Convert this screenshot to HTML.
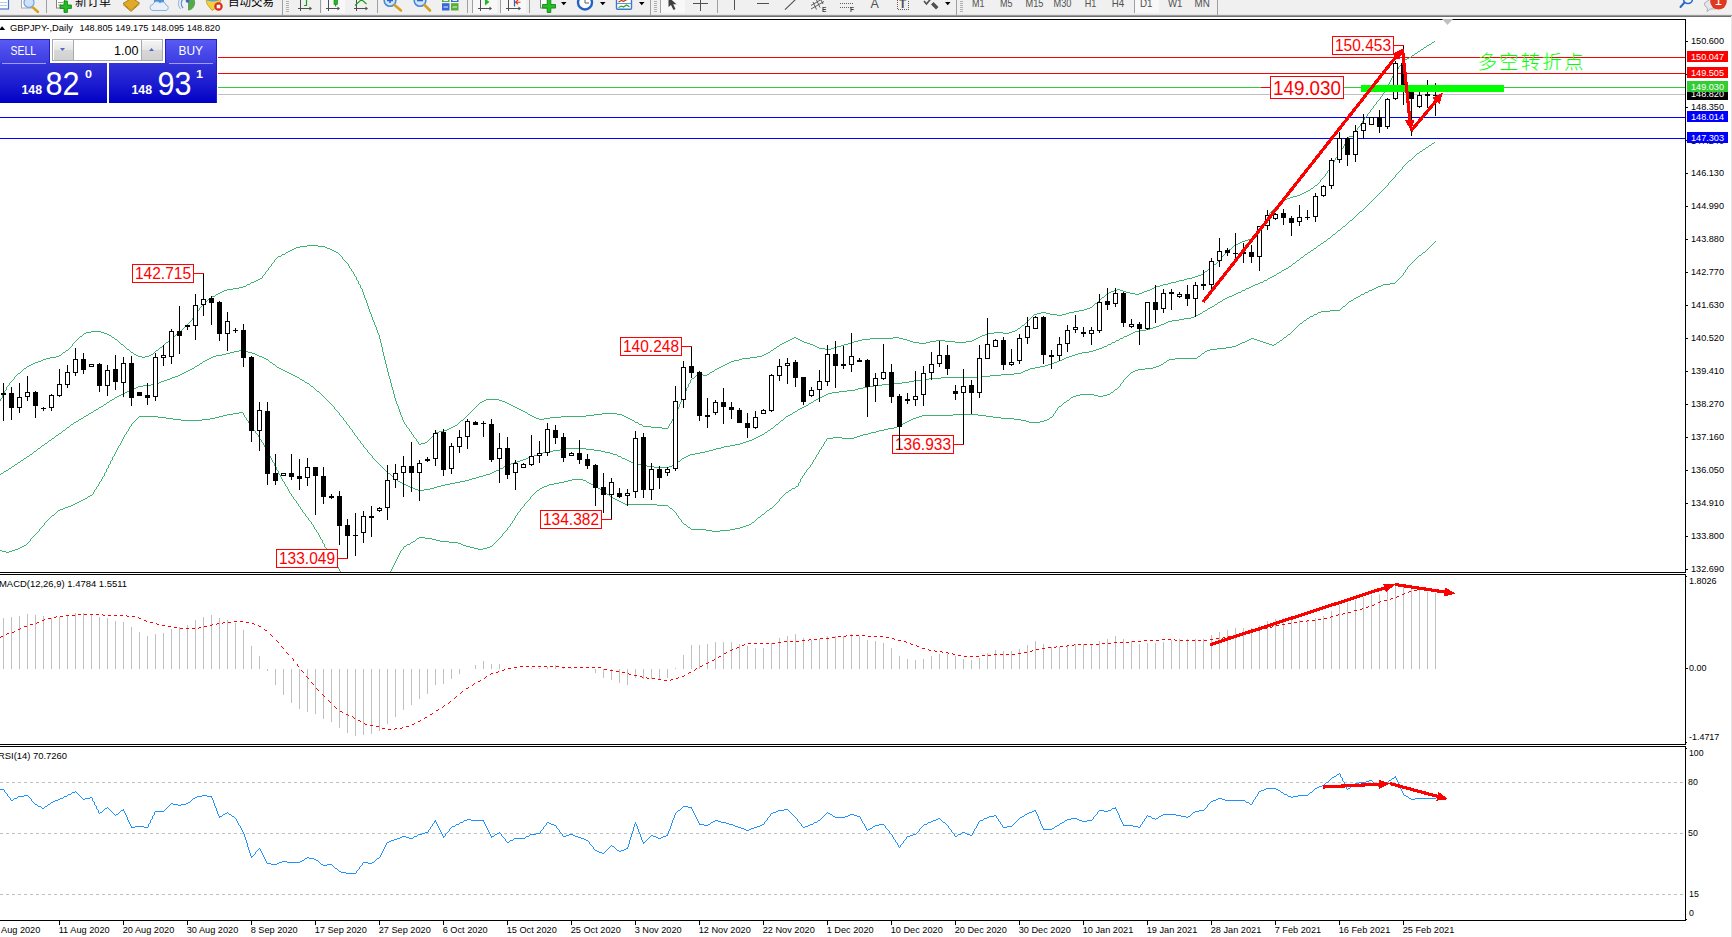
<!DOCTYPE html>
<html><head><meta charset="utf-8"><title>GBPJPY Daily</title>
<style>
html,body{margin:0;padding:0;background:#fff;overflow:hidden}
svg{display:block;position:absolute;left:0;top:0}
text{font-family:"Liberation Sans","Noto Sans CJK SC",sans-serif;}
.s{font-size:9.5px;fill:#000}
</style></head><body>
<svg width="1732" height="937" viewBox="0 0 1732 937">
<defs>
<linearGradient id="gsell" x1="0" y1="0" x2="0" y2="1"><stop offset="0" stop-color="#5b5bf5"/><stop offset="1" stop-color="#3a3ae0"/></linearGradient>
<linearGradient id="gbig" x1="0" y1="0" x2="0" y2="1"><stop offset="0" stop-color="#3434d8"/><stop offset="0.55" stop-color="#1a1ad0"/><stop offset="1" stop-color="#0000c4"/></linearGradient>
<linearGradient id="gbtn" x1="0" y1="0" x2="0" y2="1"><stop offset="0" stop-color="#f4f4f4"/><stop offset="0.45" stop-color="#e6e6e6"/><stop offset="0.5" stop-color="#d8d8d8"/><stop offset="1" stop-color="#d0d0d0"/></linearGradient>
<linearGradient id="gtb" x1="0" y1="0" x2="0" y2="1"><stop offset="0" stop-color="#f0f0f0"/><stop offset="0.3" stop-color="#a0a0a0"/><stop offset="0.6" stop-color="#707070"/><stop offset="1" stop-color="#d8d8d8"/></linearGradient>
</defs>
<rect x="0" y="0" width="1732" height="937" fill="#fff"/>

<g shape-rendering="crispEdges">
<rect x="218" y="57" width="1467" height="1" fill="#ff0000"/>
<rect x="218" y="73" width="1467" height="1" fill="#ff0000"/>
<rect x="218" y="87" width="1467" height="1" fill="#32cd32"/>
<rect x="218" y="94" width="1467" height="1" fill="#c0c0c0"/>
<rect x="0" y="117" width="1685" height="1" fill="#0000ff"/>
<rect x="0" y="138" width="1685" height="1" fill="#0000ff"/>
<clipPath id="cm"><rect x="0" y="20" width="1685" height="552"/></clipPath>
<g clip-path="url(#cm)">
<path d="M0.5 399v2M2.5 395v3M4.5 391v3M6.5 387v3M9.5 383v2M14.5 377v2M72.5 344v2M192.5 318v2M194.5 315v2M197.5 311v2M199.5 308v2M262.5 276v2M265.5 272v2M268.5 268v2M271.5 264v2M274.5 260v2M342.5 257v2M348.5 264v2M349.5 266v2M351.5 269v2M353.5 272v2M354.5 274v2M356.5 277v3M358.5 281v3M360.5 285v3M362.5 289v3M363.5 292v3M364.5 295v3M365.5 298v2M366.5 300v3M367.5 303v3M368.5 306v3M369.5 309v3M370.5 312v2M371.5 314v3M372.5 317v3M373.5 320v2M374.5 322v3M375.5 325v2M376.5 327v3M377.5 330v3M378.5 333v2M379.5 335v4M380.5 339v4M381.5 343v4M382.5 347v5M383.5 352v4M384.5 356v4M385.5 360v4M386.5 364v4M387.5 368v4M388.5 372v4M389.5 376v3M390.5 379v4M391.5 383v4M392.5 387v3M393.5 390v4M394.5 394v4M395.5 398v3M396.5 401v3M397.5 404v2M398.5 406v3M399.5 409v3M400.5 412v3M401.5 415v2M402.5 417v3M403.5 420v2M404.5 422v2M406.5 425v2M409.5 429v2M411.5 432v2M413.5 435v2M416.5 439v2M418.5 442v2M668.5 426v2M669.5 424v2M671.5 421v2M672.5 419v2M673.5 417v2M674.5 415v2M675.5 413v2M676.5 411v2M677.5 409v2M678.5 407v2M679.5 404v3M680.5 402v2M681.5 400v2M682.5 397v3M683.5 395v2M684.5 393v2M685.5 391v2M686.5 388v3M688.5 384v3M690.5 380v3M1221.5 257v2M1262.5 227v2M1263.5 225v2M1264.5 223v2M1265.5 221v2M1266.5 219v2M1267.5 217v2M1268.5 215v2M1269.5 213v2M1281.5 201v2M1320.5 180v2M1325.5 174v2M1327.5 171v2M1329.5 168v2M1331.5 165v2M1332.5 163v2M1334.5 160v2M1335.5 158v2M1337.5 155v2M1339.5 152v2M1341.5 149v2M1343.5 146v2M1344.5 144v2M1346.5 141v2M1347.5 139v2M1348.5 137v2M1353.5 134v2M1355.5 131v2M1357.5 128v2M1360.5 124v2M1362.5 121v2M1364.5 118v2M1367.5 114v2M1370.5 110v2M1373.5 106v2M1376.5 102v2M1380.5 97v2M1382.5 94v2M1385.5 90v2M1386.5 88v2M1387.5 86v2M1388.5 84v2M1389.5 82v2M1390.5 80v2M1391.5 78v2M1392.5 76v2M1393.5 74v2M1395.5 71v2M1398.5 67v2M1402.5 62v2M1434 41.5h1M1432 42.5h2M1431 43.5h1M1429 44.5h2M1427 45.5h2M1426 46.5h1M1424 47.5h2M1423 48.5h1M1421 49.5h2M1420 50.5h1M1418 51.5h2M1417 52.5h1M1415 53.5h2M1414 54.5h1M1412 55.5h2M1411 56.5h1M1409 57.5h2M1407 58.5h2M1405 59.5h2M1404 60.5h1M1403 61.5h1M1401 64.5h1M1400 65.5h1M1399 66.5h1M1397 69.5h1M1396 70.5h1M1394 73.5h1M1384 92.5h1M1383 93.5h1M1381 96.5h1M1379 99.5h1M1378 100.5h1M1377 101.5h1M1375 104.5h1M1374 105.5h1M1372 108.5h1M1371 109.5h1M1369 112.5h1M1368 113.5h1M1366 116.5h1M1365 117.5h1M1363 120.5h1M1361 123.5h1M1359 126.5h1M1358 127.5h1M1356 130.5h1M1354 133.5h1M1349 136.5h4M1345 143.5h1M1342 148.5h1M1340 151.5h1M1338 154.5h1M1336 157.5h1M1333 162.5h1M1330 167.5h1M1328 170.5h1M1326 173.5h1M1324 176.5h1M1323 177.5h1M1322 178.5h1M1321 179.5h1M1319 182.5h1M1318 183.5h1M1317 184.5h1M1315 185.5h2M1314 186.5h1M1313 187.5h1M1311 188.5h2M1310 189.5h1M1308 190.5h2M1306 191.5h2M1304 192.5h2M1302 193.5h2M1300 194.5h2M1297 195.5h3M1293 196.5h4M1290 197.5h3M1284 198.5h1M1287 198.5h3M1283 199.5h1M1285 199.5h2M1282 200.5h1M1280 203.5h1M1279 204.5h1M1278 205.5h1M1277 206.5h1M1276 207.5h1M1274 208.5h2M1273 209.5h1M1272 210.5h1M1271 211.5h1M1270 212.5h1M1261 229.5h1M1260 230.5h1M1259 231.5h1M1258 232.5h1M1257 233.5h1M1256 234.5h1M1255 235.5h1M1254 236.5h1M1253 237.5h1M1251 238.5h2M1248 239.5h3M1245 240.5h3M1242 241.5h3M1240 242.5h2M1238 243.5h2M1236 244.5h2M307 245.5h11M1234 245.5h2M300 246.5h7M318 246.5h7M1233 246.5h1M296 247.5h4M325 247.5h2M1232 247.5h1M294 248.5h2M327 248.5h3M1231 248.5h1M292 249.5h2M330 249.5h2M1229 249.5h2M290 250.5h2M332 250.5h2M1228 250.5h1M288 251.5h2M334 251.5h2M1227 251.5h1M286 252.5h2M336 252.5h2M1226 252.5h1M285 253.5h1M338 253.5h1M1225 253.5h1M282 254.5h3M339 254.5h1M1224 254.5h1M281 255.5h1M340 255.5h1M1223 255.5h1M278 256.5h3M341 256.5h1M1222 256.5h1M277 257.5h1M276 258.5h1M275 259.5h1M343 259.5h1M1220 259.5h1M344 260.5h1M1219 260.5h1M345 261.5h1M1218 261.5h1M273 262.5h1M346 262.5h1M1217 262.5h1M272 263.5h1M347 263.5h1M1216 263.5h1M1214 264.5h2M1213 265.5h1M270 266.5h1M1211 266.5h2M269 267.5h1M1210 267.5h1M350 268.5h1M1209 268.5h1M1208 269.5h1M267 270.5h1M1207 270.5h1M266 271.5h1M352 271.5h1M1205 271.5h2M1204 272.5h1M1203 273.5h1M264 274.5h1M1201 274.5h2M263 275.5h1M1198 275.5h3M355 276.5h1M1195 276.5h3M1192 277.5h3M260 278.5h2M1187 278.5h5M258 279.5h2M1184 279.5h3M256 280.5h2M357 280.5h1M1179 280.5h5M254 281.5h2M1176 281.5h3M251 282.5h3M1171 282.5h5M250 283.5h1M1168 283.5h3M247 284.5h3M359 284.5h1M1163 284.5h5M246 285.5h1M1160 285.5h3M243 286.5h3M1156 286.5h4M239 287.5h4M1154 287.5h2M233 288.5h6M361 288.5h1M1152 288.5h2M227 289.5h6M1117 289.5h3M1150 289.5h2M224 290.5h3M1114 290.5h3M1120 290.5h3M1147 290.5h3M222 291.5h2M1111 291.5h3M1123 291.5h3M1144 291.5h3M220 292.5h2M1109 292.5h2M1126 292.5h4M1142 292.5h2M218 293.5h2M1108 293.5h1M1130 293.5h5M1139 293.5h3M216 294.5h2M1106 294.5h2M1135 294.5h4M215 295.5h1M1105 295.5h1M212 296.5h3M1104 296.5h1M211 297.5h1M1102 297.5h2M210 298.5h1M1101 298.5h1M208 299.5h2M1100 299.5h1M207 300.5h1M1099 300.5h1M206 301.5h1M1098 301.5h1M205 302.5h1M1097 302.5h1M204 303.5h1M1095 303.5h2M203 304.5h1M1094 304.5h1M202 305.5h1M1093 305.5h1M201 306.5h1M1092 306.5h1M200 307.5h1M1090 307.5h2M1087 308.5h3M1084 309.5h3M198 310.5h1M1079 310.5h5M1074 311.5h5M1041 312.5h5M1069 312.5h5M196 313.5h1M1037 313.5h4M1046 313.5h4M1066 313.5h3M195 314.5h1M1034 314.5h3M1050 314.5h7M1062 314.5h4M1033 315.5h1M1057 315.5h5M1032 316.5h1M193 317.5h1M1031 317.5h1M1030 318.5h1M1029 319.5h1M191 320.5h1M1028 320.5h1M190 321.5h1M1027 321.5h1M189 322.5h1M1026 322.5h1M188 323.5h1M1025 323.5h1M187 324.5h1M1024 324.5h1M186 325.5h1M1022 325.5h2M185 326.5h1M1021 326.5h1M184 327.5h1M1020 327.5h1M183 328.5h1M1018 328.5h2M182 329.5h1M1017 329.5h1M181 330.5h1M1015 330.5h2M91 331.5h10M180 331.5h1M1012 331.5h3M86 332.5h5M101 332.5h3M179 332.5h1M994 332.5h9M1009 332.5h3M84 333.5h2M104 333.5h3M177 333.5h2M988 333.5h6M1003 333.5h6M83 334.5h1M107 334.5h2M176 334.5h1M985 334.5h3M82 335.5h1M109 335.5h2M175 335.5h1M982 335.5h3M80 336.5h2M111 336.5h1M174 336.5h1M980 336.5h2M79 337.5h1M112 337.5h2M173 337.5h1M794 337.5h2M893 337.5h6M978 337.5h2M78 338.5h1M114 338.5h1M171 338.5h2M792 338.5h2M796 338.5h2M870 338.5h23M899 338.5h4M976 338.5h2M77 339.5h1M115 339.5h2M170 339.5h1M790 339.5h2M798 339.5h2M862 339.5h8M903 339.5h4M974 339.5h2M76 340.5h1M117 340.5h1M169 340.5h1M788 340.5h2M800 340.5h2M858 340.5h4M907 340.5h3M936 340.5h9M972 340.5h2M75 341.5h1M118 341.5h1M168 341.5h1M786 341.5h2M802 341.5h2M854 341.5h4M910 341.5h3M930 341.5h6M945 341.5h10M966 341.5h6M74 342.5h1M119 342.5h1M166 342.5h2M784 342.5h2M804 342.5h3M851 342.5h3M913 342.5h6M926 342.5h4M955 342.5h11M73 343.5h1M120 343.5h1M165 343.5h1M782 343.5h2M807 343.5h3M848 343.5h3M919 343.5h7M121 344.5h2M164 344.5h1M780 344.5h2M810 344.5h3M844 344.5h4M123 345.5h1M163 345.5h1M779 345.5h1M813 345.5h2M841 345.5h3M71 346.5h1M124 346.5h1M162 346.5h1M777 346.5h2M815 346.5h2M837 346.5h4M70 347.5h1M125 347.5h1M160 347.5h2M776 347.5h1M817 347.5h2M834 347.5h3M69 348.5h1M126 348.5h1M159 348.5h1M774 348.5h2M819 348.5h6M831 348.5h3M68 349.5h1M127 349.5h2M158 349.5h1M773 349.5h1M825 349.5h6M66 350.5h2M129 350.5h1M156 350.5h2M771 350.5h2M65 351.5h1M130 351.5h1M155 351.5h1M770 351.5h1M63 352.5h2M131 352.5h2M154 352.5h1M768 352.5h2M62 353.5h1M133 353.5h1M153 353.5h1M766 353.5h2M61 354.5h1M134 354.5h2M151 354.5h2M764 354.5h2M59 355.5h2M136 355.5h2M149 355.5h2M762 355.5h2M56 356.5h3M138 356.5h4M145 356.5h4M757 356.5h5M50 357.5h6M142 357.5h3M750 357.5h7M46 358.5h4M742 358.5h8M43 359.5h3M739 359.5h3M41 360.5h2M734 360.5h5M38 361.5h3M731 361.5h3M35 362.5h3M729 362.5h2M33 363.5h2M727 363.5h2M31 364.5h2M725 364.5h2M29 365.5h2M723 365.5h2M27 366.5h2M721 366.5h2M26 367.5h1M719 367.5h2M24 368.5h2M717 368.5h2M23 369.5h1M715 369.5h2M22 370.5h1M714 370.5h1M21 371.5h1M712 371.5h2M20 372.5h1M710 372.5h2M18 373.5h2M709 373.5h1M17 374.5h1M698 374.5h5M707 374.5h2M16 375.5h1M696 375.5h2M703 375.5h4M15 376.5h1M695 376.5h1M694 377.5h1M692 378.5h2M13 379.5h1M691 379.5h1M12 380.5h1M11 381.5h1M10 382.5h1M689 383.5h1M8 385.5h1M7 386.5h1M687 387.5h1M5 390.5h1M3 394.5h1M1 398.5h1M486 399.5h13M484 400.5h2M499 400.5h3M482 401.5h2M502 401.5h3M480 402.5h2M505 402.5h2M479 403.5h1M507 403.5h2M478 404.5h1M509 404.5h2M477 405.5h1M511 405.5h2M476 406.5h1M513 406.5h2M475 407.5h1M515 407.5h2M474 408.5h1M517 408.5h2M473 409.5h1M519 409.5h2M472 410.5h1M521 410.5h2M471 411.5h1M523 411.5h2M470 412.5h1M525 412.5h2M469 413.5h1M527 413.5h1M602 413.5h15M468 414.5h1M528 414.5h2M594 414.5h8M617 414.5h5M467 415.5h1M530 415.5h2M586 415.5h8M622 415.5h2M466 416.5h1M532 416.5h2M561 416.5h25M624 416.5h2M465 417.5h1M534 417.5h2M550 417.5h11M626 417.5h2M464 418.5h1M536 418.5h3M544 418.5h6M628 418.5h2M463 419.5h1M539 419.5h5M630 419.5h2M461 420.5h2M632 420.5h2M460 421.5h1M634 421.5h1M459 422.5h1M635 422.5h3M458 423.5h1M638 423.5h1M670 423.5h1M405 424.5h1M457 424.5h1M639 424.5h3M455 425.5h2M642 425.5h1M453 426.5h2M643 426.5h8M407 427.5h1M451 427.5h2M651 427.5h11M408 428.5h1M449 428.5h2M662 428.5h6M447 429.5h2M443 430.5h4M410 431.5h1M439 431.5h4M436 432.5h3M435 433.5h1M412 434.5h1M434 434.5h1M433 435.5h1M432 436.5h1M414 437.5h1M431 437.5h1M415 438.5h1M430 438.5h1M429 439.5h1M428 440.5h1M417 441.5h1M427 441.5h1M425 442.5h2M421 443.5h4M419 444.5h2" fill="none" stroke="#3cb371" stroke-width="1"/>
<path d="M334.5 407v2M339.5 413v2M343.5 418v2M346.5 422v2M349.5 426v2M352.5 430v2M354.5 433v2M357.5 437v2M360.5 441v2M363.5 445v2M367.5 450v2M372.5 456v2M1388.5 183v2M1395.5 175v2M1402.5 167v2M1434 142.5h1M1432 143.5h2M1431 144.5h1M1429 145.5h2M1428 146.5h1M1426 147.5h2M1425 148.5h1M1423 149.5h2M1422 150.5h1M1420 151.5h2M1419 152.5h1M1417 153.5h2M1416 154.5h1M1415 155.5h1M1414 156.5h1M1413 157.5h1M1412 158.5h1M1411 159.5h1M1409 160.5h2M1408 161.5h1M1407 162.5h1M1406 163.5h1M1405 164.5h1M1404 165.5h1M1403 166.5h1M1401 169.5h1M1400 170.5h1M1399 171.5h1M1398 172.5h1M1397 173.5h1M1396 174.5h1M1394 177.5h1M1393 178.5h1M1392 179.5h1M1391 180.5h1M1390 181.5h1M1389 182.5h1M1387 185.5h1M1386 186.5h1M1385 187.5h1M1384 188.5h1M1383 189.5h1M1382 190.5h1M1381 191.5h1M1380 192.5h1M1379 193.5h1M1378 194.5h1M1377 195.5h1M1376 196.5h1M1375 197.5h1M1374 198.5h1M1373 199.5h1M1372 200.5h1M1371 201.5h1M1370 202.5h1M1369 203.5h1M1368 204.5h1M1367 205.5h1M1366 206.5h1M1365 207.5h1M1364 208.5h1M1363 209.5h1M1362 210.5h1M1360 211.5h2M1359 212.5h1M1358 213.5h1M1357 214.5h1M1356 215.5h1M1355 216.5h1M1354 217.5h1M1353 218.5h1M1352 219.5h1M1350 220.5h2M1349 221.5h1M1348 222.5h1M1347 223.5h1M1346 224.5h1M1345 225.5h1M1343 226.5h2M1342 227.5h1M1341 228.5h1M1340 229.5h1M1338 230.5h2M1337 231.5h1M1336 232.5h1M1335 233.5h1M1333 234.5h2M1332 235.5h1M1331 236.5h1M1330 237.5h1M1328 238.5h2M1327 239.5h1M1326 240.5h1M1324 241.5h2M1323 242.5h1M1321 243.5h2M1320 244.5h1M1318 245.5h2M1317 246.5h1M1316 247.5h1M1314 248.5h2M1313 249.5h1M1311 250.5h2M1310 251.5h1M1308 252.5h2M1307 253.5h1M1305 254.5h2M1304 255.5h1M1303 256.5h1M1301 257.5h2M1300 258.5h1M1299 259.5h1M1297 260.5h2M1296 261.5h1M1295 262.5h1M1293 263.5h2M1292 264.5h1M1291 265.5h1M1289 266.5h2M1288 267.5h1M1286 268.5h2M1284 269.5h2M1282 270.5h2M1281 271.5h1M1279 272.5h2M1277 273.5h2M1276 274.5h1M1274 275.5h2M1272 276.5h2M1270 277.5h2M1268 278.5h2M1267 279.5h1M1264 280.5h3M1263 281.5h1M1260 282.5h3M1258 283.5h2M1255 284.5h3M1253 285.5h2M1251 286.5h2M1249 287.5h2M1246 288.5h3M1245 289.5h1M1242 290.5h3M1241 291.5h1M1238 292.5h3M1236 293.5h2M1234 294.5h2M1232 295.5h2M1229 296.5h3M1227 297.5h2M1225 298.5h2M1223 299.5h2M1222 300.5h1M1220 301.5h2M1218 302.5h2M1217 303.5h1M1215 304.5h2M1214 305.5h1M1212 306.5h2M1210 307.5h2M1208 308.5h2M1207 309.5h1M1205 310.5h2M1203 311.5h2M1202 312.5h1M1200 313.5h2M1198 314.5h2M1196 315.5h2M1194 316.5h2M1191 317.5h3M1184 318.5h7M1179 319.5h5M1172 320.5h7M1168 321.5h4M1166 322.5h2M1164 323.5h2M1161 324.5h3M1159 325.5h2M1156 326.5h3M1153 327.5h3M1150 328.5h3M1146 329.5h4M1139 330.5h7M1135 331.5h4M1133 332.5h2M1131 333.5h2M1129 334.5h2M1127 335.5h2M1124 336.5h3M1123 337.5h1M1120 338.5h3M1119 339.5h1M1116 340.5h3M1115 341.5h1M1112 342.5h3M1111 343.5h1M1108 344.5h3M1107 345.5h1M1104 346.5h3M1102 347.5h2M1099 348.5h3M1096 349.5h3M239 350.5h5M1093 350.5h3M234 351.5h5M244 351.5h4M1089 351.5h4M230 352.5h4M248 352.5h4M1082 352.5h7M226 353.5h4M252 353.5h3M1078 353.5h4M222 354.5h4M255 354.5h2M1075 354.5h3M216 355.5h6M257 355.5h2M1072 355.5h3M213 356.5h3M259 356.5h3M1069 356.5h3M211 357.5h2M262 357.5h2M1066 357.5h3M209 358.5h2M264 358.5h2M1064 358.5h2M207 359.5h2M266 359.5h2M1062 359.5h2M205 360.5h2M268 360.5h1M1059 360.5h3M203 361.5h2M269 361.5h1M1057 361.5h2M202 362.5h1M270 362.5h2M1054 362.5h3M200 363.5h2M272 363.5h1M1051 363.5h3M199 364.5h1M273 364.5h2M1048 364.5h3M197 365.5h2M275 365.5h1M1045 365.5h3M195 366.5h2M276 366.5h1M1040 366.5h5M194 367.5h1M277 367.5h2M1035 367.5h5M192 368.5h2M279 368.5h2M1030 368.5h5M190 369.5h2M281 369.5h2M1028 369.5h2M188 370.5h2M283 370.5h2M1025 370.5h3M186 371.5h2M285 371.5h2M1023 371.5h2M184 372.5h2M287 372.5h2M1021 372.5h2M182 373.5h2M289 373.5h2M1014 373.5h7M180 374.5h2M291 374.5h2M1001 374.5h13M178 375.5h2M293 375.5h2M990 375.5h11M175 376.5h3M295 376.5h2M977 376.5h13M172 377.5h3M297 377.5h2M941 377.5h36M170 378.5h2M299 378.5h1M929 378.5h12M167 379.5h3M300 379.5h2M921 379.5h8M164 380.5h3M302 380.5h2M914 380.5h7M161 381.5h3M304 381.5h1M909 381.5h5M159 382.5h2M305 382.5h2M902 382.5h7M156 383.5h3M307 383.5h2M894 383.5h8M151 384.5h5M309 384.5h1M882 384.5h12M143 385.5h8M310 385.5h1M874 385.5h8M138 386.5h5M311 386.5h2M867 386.5h7M136 387.5h2M313 387.5h1M863 387.5h4M134 388.5h2M314 388.5h1M858 388.5h5M132 389.5h2M315 389.5h1M855 389.5h3M130 390.5h2M316 390.5h1M847 390.5h8M127 391.5h3M317 391.5h2M839 391.5h8M125 392.5h2M319 392.5h1M832 392.5h7M123 393.5h2M320 393.5h1M828 393.5h4M121 394.5h2M321 394.5h1M826 394.5h2M119 395.5h2M322 395.5h1M824 395.5h2M117 396.5h2M323 396.5h1M822 396.5h2M115 397.5h2M324 397.5h1M820 397.5h2M114 398.5h1M325 398.5h1M818 398.5h2M112 399.5h2M326 399.5h1M816 399.5h2M110 400.5h2M327 400.5h1M814 400.5h2M109 401.5h1M328 401.5h1M813 401.5h1M107 402.5h2M329 402.5h1M811 402.5h2M106 403.5h1M330 403.5h1M809 403.5h2M104 404.5h2M331 404.5h1M808 404.5h1M103 405.5h1M332 405.5h1M806 405.5h2M101 406.5h2M333 406.5h1M804 406.5h2M99 407.5h2M802 407.5h2M98 408.5h1M800 408.5h2M96 409.5h2M335 409.5h1M798 409.5h2M94 410.5h2M336 410.5h1M797 410.5h1M93 411.5h1M337 411.5h1M795 411.5h2M91 412.5h2M338 412.5h1M793 412.5h2M89 413.5h2M792 413.5h1M88 414.5h1M790 414.5h2M86 415.5h2M340 415.5h1M788 415.5h2M84 416.5h2M341 416.5h1M786 416.5h2M83 417.5h1M342 417.5h1M785 417.5h1M81 418.5h2M784 418.5h1M79 419.5h2M783 419.5h1M78 420.5h1M344 420.5h1M781 420.5h2M76 421.5h2M345 421.5h1M780 421.5h1M74 422.5h2M779 422.5h1M73 423.5h1M778 423.5h1M71 424.5h2M347 424.5h1M776 424.5h2M70 425.5h1M348 425.5h1M775 425.5h1M69 426.5h1M774 426.5h1M67 427.5h2M773 427.5h1M66 428.5h1M350 428.5h1M771 428.5h2M65 429.5h1M351 429.5h1M770 429.5h1M63 430.5h2M768 430.5h2M62 431.5h1M767 431.5h1M61 432.5h1M353 432.5h1M765 432.5h2M59 433.5h2M764 433.5h1M58 434.5h1M762 434.5h2M56 435.5h2M355 435.5h1M760 435.5h2M55 436.5h1M356 436.5h1M758 436.5h2M54 437.5h1M756 437.5h2M52 438.5h2M754 438.5h2M51 439.5h1M358 439.5h1M752 439.5h2M49 440.5h2M359 440.5h1M749 440.5h3M48 441.5h1M746 441.5h3M47 442.5h1M743 442.5h3M45 443.5h2M361 443.5h1M740 443.5h3M44 444.5h1M362 444.5h1M735 444.5h5M42 445.5h2M730 445.5h5M41 446.5h1M724 446.5h6M40 447.5h1M364 447.5h1M721 447.5h3M38 448.5h2M365 448.5h1M565 448.5h21M716 448.5h5M37 449.5h1M366 449.5h1M560 449.5h5M586 449.5h8M713 449.5h3M36 450.5h1M553 450.5h7M594 450.5h7M709 450.5h4M34 451.5h2M548 451.5h5M601 451.5h4M705 451.5h4M33 452.5h1M368 452.5h1M543 452.5h5M605 452.5h5M700 452.5h5M32 453.5h1M369 453.5h1M540 453.5h3M610 453.5h3M695 453.5h5M30 454.5h2M370 454.5h1M537 454.5h3M613 454.5h4M690 454.5h5M29 455.5h1M371 455.5h1M534 455.5h3M617 455.5h1M688 455.5h2M27 456.5h2M531 456.5h3M618 456.5h3M686 456.5h2M26 457.5h1M528 457.5h3M621 457.5h1M684 457.5h2M24 458.5h2M373 458.5h1M526 458.5h2M622 458.5h3M682 458.5h2M23 459.5h1M374 459.5h1M523 459.5h3M625 459.5h2M681 459.5h1M21 460.5h2M375 460.5h1M520 460.5h3M627 460.5h2M680 460.5h1M20 461.5h1M376 461.5h1M517 461.5h3M629 461.5h2M678 461.5h2M18 462.5h2M377 462.5h1M514 462.5h3M631 462.5h4M677 462.5h1M17 463.5h1M378 463.5h1M511 463.5h3M635 463.5h3M676 463.5h1M15 464.5h2M379 464.5h1M508 464.5h3M638 464.5h5M674 464.5h2M14 465.5h1M380 465.5h1M507 465.5h1M643 465.5h4M672 465.5h2M12 466.5h2M381 466.5h1M504 466.5h3M647 466.5h7M669 466.5h3M11 467.5h1M382 467.5h1M503 467.5h1M654 467.5h15M9 468.5h2M383 468.5h1M500 468.5h3M8 469.5h1M384 469.5h1M499 469.5h1M6 470.5h2M385 470.5h1M496 470.5h3M4 471.5h2M386 471.5h1M494 471.5h2M3 472.5h1M387 472.5h1M492 472.5h2M1 473.5h2M388 473.5h2M490 473.5h2M0 474.5h1M390 474.5h1M486 474.5h4M391 475.5h1M483 475.5h3M392 476.5h1M479 476.5h4M393 477.5h1M476 477.5h3M394 478.5h2M472 478.5h4M396 479.5h1M469 479.5h3M397 480.5h1M465 480.5h4M398 481.5h2M460 481.5h5M400 482.5h2M455 482.5h5M402 483.5h2M450 483.5h5M404 484.5h2M445 484.5h5M406 485.5h2M441 485.5h4M408 486.5h2M437 486.5h4M410 487.5h3M434 487.5h3M413 488.5h2M430 488.5h4M415 489.5h3M424 489.5h6M418 490.5h6" fill="none" stroke="#3cb371" stroke-width="1"/>
<path d="M30.5 539v2M39.5 529v2M44.5 523v2M93.5 492v2M94.5 490v2M96.5 487v2M98.5 484v2M99.5 482v2M101.5 479v2M102.5 477v2M104.5 473v3M106.5 469v3M108.5 465v3M110.5 461v3M112.5 457v3M114.5 454v2M115.5 452v2M116.5 450v2M117.5 448v2M118.5 446v2M120.5 443v2M121.5 441v2M122.5 439v2M123.5 437v2M124.5 435v2M126.5 432v2M128.5 429v2M129.5 427v2M131.5 424v2M243.5 413v2M244.5 415v2M246.5 418v2M248.5 421v2M249.5 423v2M252.5 427v2M255.5 431v2M258.5 435v2M259.5 437v2M261.5 440v2M263.5 443v2M264.5 445v2M266.5 448v2M267.5 450v2M268.5 452v2M269.5 454v2M270.5 456v2M271.5 458v2M272.5 460v2M274.5 463v3M276.5 467v3M278.5 471v3M280.5 475v2M281.5 477v2M282.5 479v2M284.5 482v2M285.5 484v2M287.5 487v2M288.5 489v2M289.5 491v2M291.5 494v2M293.5 497v2M296.5 501v2M298.5 504v2M300.5 507v2M302.5 510v2M305.5 514v2M308.5 518v2M311.5 522v2M313.5 525v2M314.5 527v2M316.5 530v2M318.5 533v2M319.5 535v2M320.5 537v2M322.5 540v3M324.5 544v3M326.5 548v2M328.5 551v2M329.5 553v2M331.5 556v2M332.5 558v2M334.5 561v2M336.5 564v2M338.5 567v2M339.5 569v2M239 412.5h4M233 413.5h6M227 414.5h6M223 415.5h4M139 416.5h19M219 416.5h4M138 417.5h1M158 417.5h8M215 417.5h4M245 417.5h1M137 418.5h1M166 418.5h7M210 418.5h5M136 419.5h1M173 419.5h8M202 419.5h8M135 420.5h1M181 420.5h21M247 420.5h1M134 421.5h1M133 422.5h1M132 423.5h1M250 425.5h1M130 426.5h1M251 426.5h1M253 429.5h1M254 430.5h1M127 431.5h1M256 433.5h1M125 434.5h1M257 434.5h1M260 439.5h1M262 442.5h1M119 445.5h1M265 447.5h1M113 456.5h1M111 460.5h1M273 462.5h1M109 464.5h1M275 466.5h1M107 468.5h1M277 470.5h1M105 472.5h1M279 474.5h1M103 476.5h1M100 481.5h1M283 481.5h1M97 486.5h1M286 486.5h1M95 489.5h1M290 493.5h1M92 494.5h1M90 495.5h2M88 496.5h2M292 496.5h1M87 497.5h1M85 498.5h2M83 499.5h2M294 499.5h1M81 500.5h2M295 500.5h1M79 501.5h2M77 502.5h2M75 503.5h2M297 503.5h1M73 504.5h2M71 505.5h2M68 506.5h3M299 506.5h1M65 507.5h3M63 508.5h2M60 509.5h3M301 509.5h1M58 510.5h2M57 511.5h1M56 512.5h1M303 512.5h1M55 513.5h1M304 513.5h1M54 514.5h1M52 515.5h2M51 516.5h1M306 516.5h1M50 517.5h1M307 517.5h1M49 518.5h1M48 519.5h1M47 520.5h1M309 520.5h1M46 521.5h1M310 521.5h1M45 522.5h1M312 524.5h1M43 525.5h1M42 526.5h1M41 527.5h1M40 528.5h1M315 529.5h1M38 531.5h1M37 532.5h1M317 532.5h1M36 533.5h1M35 534.5h1M34 535.5h1M33 536.5h1M32 537.5h1M31 538.5h1M321 539.5h1M29 541.5h1M28 542.5h1M27 543.5h1M323 543.5h1M26 544.5h1M24 545.5h2M22 546.5h2M20 547.5h2M325 547.5h1M18 548.5h2M15 549.5h3M0 550.5h2M12 550.5h3M327 550.5h1M2 551.5h4M9 551.5h3M6 552.5h3M330 555.5h1M333 560.5h1M335 563.5h1M337 566.5h1M340 571.5h1" fill="none" stroke="#3cb371" stroke-width="1"/>
<path d="M391.5 569v2M392.5 567v2M393.5 565v2M394.5 563v2M395.5 561v2M396.5 559v2M397.5 557v2M398.5 555v2M399.5 553v2M400.5 551v2M403.5 547v2M502.5 534v2M507.5 528v2M510.5 524v2M512.5 521v2M514.5 518v2M515.5 516v2M517.5 513v2M520.5 509v2M524.5 504v2M530.5 497v2M676.5 513v2M678.5 516v2M681.5 520v2M779.5 499v2M798.5 483v3M800.5 479v3M802.5 476v2M804.5 473v2M806.5 470v2M810.5 465v2M812.5 462v2M813.5 460v2M815.5 457v2M816.5 455v2M818.5 452v2M819.5 450v2M821.5 447v2M823.5 444v2M824.5 442v2M826.5 439v2M1053.5 414v2M1055.5 411v2M1057.5 408v2M1120.5 384v2M1123.5 380v2M1403.5 273v2M1405.5 270v2M1407.5 267v2M1435 241.5h1M1434 242.5h1M1433 243.5h1M1432 244.5h1M1431 245.5h1M1430 246.5h1M1429 247.5h1M1428 248.5h1M1427 249.5h1M1426 250.5h1M1425 251.5h1M1423 252.5h2M1422 253.5h1M1421 254.5h1M1419 255.5h2M1418 256.5h1M1417 257.5h1M1416 258.5h1M1415 259.5h1M1414 260.5h1M1413 261.5h1M1412 262.5h1M1411 263.5h1M1410 264.5h1M1409 265.5h1M1408 266.5h1M1406 269.5h1M1404 272.5h1M1402 275.5h1M1401 276.5h1M1400 277.5h1M1399 278.5h1M1398 279.5h1M1397 280.5h1M1396 281.5h1M1395 282.5h1M1390 283.5h5M1383 284.5h7M1381 285.5h2M1378 286.5h3M1376 287.5h2M1374 288.5h2M1372 289.5h2M1369 290.5h3M1368 291.5h1M1365 292.5h3M1364 293.5h1M1361 294.5h3M1360 295.5h1M1358 296.5h2M1356 297.5h2M1354 298.5h2M1353 299.5h1M1351 300.5h2M1349 301.5h2M1348 302.5h1M1347 303.5h1M1346 304.5h1M1345 305.5h1M1343 306.5h2M1342 307.5h1M1341 308.5h1M1340 309.5h1M1330 310.5h10M1321 311.5h9M1318 312.5h3M1317 313.5h1M1314 314.5h3M1313 315.5h1M1310 316.5h3M1309 317.5h1M1307 318.5h2M1306 319.5h1M1304 320.5h2M1303 321.5h1M1302 322.5h1M1300 323.5h2M1299 324.5h1M1298 325.5h1M1297 326.5h1M1296 327.5h1M1295 328.5h1M1294 329.5h1M1293 330.5h1M1292 331.5h1M1291 332.5h1M1290 333.5h1M1288 334.5h2M1287 335.5h1M1286 336.5h1M1284 337.5h2M1251 338.5h3M1283 338.5h1M1249 339.5h2M1254 339.5h3M1282 339.5h1M1247 340.5h2M1257 340.5h3M1280 340.5h2M1245 341.5h2M1260 341.5h3M1279 341.5h1M1242 342.5h3M1263 342.5h3M1277 342.5h2M1240 343.5h2M1266 343.5h3M1276 343.5h1M1238 344.5h2M1269 344.5h3M1274 344.5h2M1236 345.5h2M1272 345.5h2M1232 346.5h4M1226 347.5h6M1217 348.5h9M1210 349.5h7M1207 350.5h3M1205 351.5h2M1204 352.5h1M1202 353.5h2M1201 354.5h1M1200 355.5h1M1198 356.5h2M1197 357.5h1M1175 358.5h22M1169 359.5h6M1167 360.5h2M1166 361.5h1M1164 362.5h2M1163 363.5h1M1161 364.5h2M1159 365.5h2M1156 366.5h3M1153 367.5h3M1145 368.5h8M1138 369.5h7M1135 370.5h3M1133 371.5h2M1131 372.5h2M1130 373.5h1M1129 374.5h1M1128 375.5h1M1127 376.5h1M1126 377.5h1M1125 378.5h1M1124 379.5h1M1122 382.5h1M1121 383.5h1M1119 386.5h1M1118 387.5h1M1117 388.5h1M1115 389.5h2M1114 390.5h1M1113 391.5h1M1111 392.5h2M1110 393.5h1M1080 394.5h14M1107 394.5h3M1076 395.5h4M1094 395.5h4M1103 395.5h4M1073 396.5h3M1098 396.5h5M1071 397.5h2M1070 398.5h1M1069 399.5h1M1067 400.5h2M1066 401.5h1M1064 402.5h2M1063 403.5h1M1062 404.5h1M1061 405.5h1M1059 406.5h2M1058 407.5h1M1056 410.5h1M1054 413.5h1M953 414.5h25M922 415.5h31M978 415.5h8M919 416.5h3M986 416.5h7M1052 416.5h1M916 417.5h3M993 417.5h8M1050 417.5h2M913 418.5h3M1001 418.5h13M1049 418.5h1M911 419.5h2M1014 419.5h7M1047 419.5h2M909 420.5h2M1021 420.5h5M1044 420.5h3M907 421.5h2M1026 421.5h3M1040 421.5h4M905 422.5h2M1029 422.5h11M903 423.5h2M901 424.5h2M899 425.5h2M897 426.5h2M894 427.5h3M888 428.5h6M884 429.5h4M879 430.5h5M876 431.5h3M871 432.5h5M868 433.5h3M863 434.5h5M860 435.5h3M857 436.5h3M833 437.5h9M854 437.5h3M827 438.5h6M842 438.5h12M825 441.5h1M822 446.5h1M820 449.5h1M817 454.5h1M814 459.5h1M811 464.5h1M809 467.5h1M808 468.5h1M807 469.5h1M805 472.5h1M803 475.5h1M801 478.5h1M572 479.5h11M568 480.5h4M583 480.5h3M564 481.5h4M586 481.5h1M559 482.5h5M587 482.5h2M799 482.5h1M554 483.5h5M589 483.5h2M549 484.5h5M591 484.5h2M547 485.5h2M593 485.5h2M544 486.5h3M595 486.5h2M796 486.5h2M542 487.5h2M597 487.5h1M795 487.5h1M540 488.5h2M598 488.5h2M792 488.5h3M539 489.5h1M600 489.5h1M791 489.5h1M537 490.5h2M601 490.5h2M789 490.5h2M536 491.5h1M603 491.5h1M788 491.5h1M535 492.5h1M604 492.5h2M786 492.5h2M534 493.5h1M606 493.5h1M785 493.5h1M533 494.5h1M607 494.5h2M784 494.5h1M532 495.5h1M609 495.5h1M783 495.5h1M531 496.5h1M610 496.5h2M782 496.5h1M612 497.5h1M781 497.5h1M613 498.5h2M780 498.5h1M529 499.5h1M615 499.5h2M528 500.5h1M617 500.5h2M527 501.5h1M619 501.5h2M778 501.5h1M526 502.5h1M621 502.5h2M777 502.5h1M525 503.5h1M623 503.5h2M776 503.5h1M625 504.5h32M775 504.5h1M657 505.5h11M774 505.5h1M523 506.5h1M668 506.5h1M773 506.5h1M522 507.5h1M669 507.5h1M772 507.5h1M521 508.5h1M670 508.5h2M770 508.5h2M672 509.5h1M769 509.5h1M673 510.5h1M767 510.5h2M519 511.5h1M674 511.5h1M766 511.5h1M518 512.5h1M675 512.5h1M765 512.5h1M764 513.5h1M762 514.5h2M516 515.5h1M677 515.5h1M761 515.5h1M760 516.5h1M758 517.5h2M679 518.5h1M757 518.5h1M680 519.5h1M756 519.5h1M513 520.5h1M755 520.5h1M754 521.5h1M682 522.5h1M752 522.5h2M511 523.5h1M683 523.5h1M751 523.5h1M684 524.5h2M749 524.5h2M686 525.5h1M746 525.5h3M509 526.5h1M687 526.5h1M743 526.5h3M508 527.5h1M688 527.5h2M740 527.5h3M690 528.5h1M735 528.5h5M691 529.5h15M730 529.5h5M506 530.5h1M706 530.5h6M720 530.5h10M505 531.5h1M712 531.5h8M504 532.5h1M503 533.5h1M501 536.5h1M419 537.5h6M500 537.5h1M417 538.5h2M425 538.5h7M499 538.5h1M416 539.5h1M432 539.5h4M498 539.5h1M415 540.5h1M436 540.5h4M497 540.5h1M413 541.5h2M440 541.5h9M496 541.5h1M411 542.5h2M449 542.5h9M495 542.5h1M410 543.5h1M458 543.5h3M494 543.5h1M407 544.5h3M461 544.5h2M493 544.5h1M406 545.5h1M463 545.5h3M492 545.5h1M404 546.5h2M466 546.5h4M490 546.5h2M470 547.5h4M487 547.5h3M474 548.5h4M483 548.5h4M402 549.5h1M478 549.5h5M401 550.5h1M390 571.5h1" fill="none" stroke="#3cb371" stroke-width="1"/>
</g>
<rect x="3" y="383" width="1" height="38" fill="#000"/>
<rect x="1" y="393" width="5" height="2" fill="#000"/>
<rect x="11" y="387" width="1" height="33" fill="#000"/>
<rect x="9" y="393" width="5" height="15" fill="#000"/>
<rect x="19" y="383" width="1" height="30" fill="#000"/>
<rect x="17.5" y="397.5" width="4" height="10" fill="#fff" stroke="#000" stroke-width="1"/>
<rect x="27" y="376" width="1" height="25" fill="#000"/>
<rect x="25.5" y="392.5" width="4" height="4" fill="#fff" stroke="#000" stroke-width="1"/>
<rect x="35" y="391" width="1" height="27" fill="#000"/>
<rect x="33" y="392" width="5" height="14" fill="#000"/>
<rect x="43" y="407" width="1" height="4" fill="#000"/>
<rect x="41" y="408" width="5" height="1" fill="#000"/>
<rect x="51" y="394" width="1" height="17" fill="#000"/>
<rect x="49.5" y="395.5" width="4" height="12" fill="#fff" stroke="#000" stroke-width="1"/>
<rect x="59" y="369" width="1" height="28" fill="#000"/>
<rect x="57.5" y="384.5" width="4" height="11" fill="#fff" stroke="#000" stroke-width="1"/>
<rect x="67" y="365" width="1" height="23" fill="#000"/>
<rect x="65.5" y="372.5" width="4" height="12" fill="#fff" stroke="#000" stroke-width="1"/>
<rect x="75" y="348" width="1" height="28" fill="#000"/>
<rect x="73.5" y="359.5" width="4" height="13" fill="#fff" stroke="#000" stroke-width="1"/>
<rect x="83" y="353" width="1" height="21" fill="#000"/>
<rect x="81" y="359" width="5" height="11" fill="#000"/>
<rect x="91" y="364" width="1" height="3" fill="#000"/>
<rect x="89.5" y="364.5" width="4" height="2" fill="#fff" stroke="#000" stroke-width="1"/>
<rect x="99" y="363" width="1" height="29" fill="#000"/>
<rect x="97" y="364" width="5" height="22" fill="#000"/>
<rect x="107" y="365" width="1" height="31" fill="#000"/>
<rect x="105.5" y="370.5" width="4" height="15" fill="#fff" stroke="#000" stroke-width="1"/>
<rect x="115" y="355" width="1" height="35" fill="#000"/>
<rect x="113" y="369" width="5" height="13" fill="#000"/>
<rect x="123" y="357" width="1" height="40" fill="#000"/>
<rect x="121.5" y="363.5" width="4" height="19" fill="#fff" stroke="#000" stroke-width="1"/>
<rect x="131" y="356" width="1" height="50" fill="#000"/>
<rect x="129" y="363" width="5" height="35" fill="#000"/>
<rect x="139" y="392" width="1" height="4" fill="#000"/>
<rect x="137" y="392" width="5" height="4" fill="#000"/>
<rect x="147" y="383" width="1" height="22" fill="#000"/>
<rect x="145" y="395" width="5" height="3" fill="#000"/>
<rect x="155" y="353" width="1" height="48" fill="#000"/>
<rect x="153.5" y="357.5" width="4" height="39" fill="#fff" stroke="#000" stroke-width="1"/>
<rect x="163" y="345" width="1" height="21" fill="#000"/>
<rect x="161.5" y="355.5" width="4" height="2" fill="#fff" stroke="#000" stroke-width="1"/>
<rect x="171" y="329" width="1" height="35" fill="#000"/>
<rect x="169.5" y="331.5" width="4" height="25" fill="#fff" stroke="#000" stroke-width="1"/>
<rect x="179" y="306" width="1" height="48" fill="#000"/>
<rect x="177" y="331" width="5" height="5" fill="#000"/>
<rect x="187" y="325" width="1" height="5" fill="#000"/>
<rect x="185" y="325" width="5" height="2" fill="#000"/>
<rect x="195" y="294" width="1" height="46" fill="#000"/>
<rect x="193.5" y="305.5" width="4" height="20" fill="#fff" stroke="#000" stroke-width="1"/>
<rect x="203" y="273" width="1" height="43" fill="#000"/>
<rect x="201.5" y="299.5" width="4" height="5" fill="#fff" stroke="#000" stroke-width="1"/>
<rect x="211" y="296" width="1" height="29" fill="#000"/>
<rect x="209" y="298" width="5" height="5" fill="#000"/>
<rect x="219" y="301" width="1" height="40" fill="#000"/>
<rect x="217" y="302" width="5" height="32" fill="#000"/>
<rect x="227" y="312" width="1" height="39" fill="#000"/>
<rect x="225.5" y="321.5" width="4" height="12" fill="#fff" stroke="#000" stroke-width="1"/>
<rect x="235" y="328" width="1" height="5" fill="#000"/>
<rect x="233" y="330" width="5" height="1" fill="#000"/>
<rect x="243" y="324" width="1" height="43" fill="#000"/>
<rect x="241" y="330" width="5" height="28" fill="#000"/>
<rect x="251" y="356" width="1" height="86" fill="#000"/>
<rect x="249" y="357" width="5" height="74" fill="#000"/>
<rect x="259" y="402" width="1" height="49" fill="#000"/>
<rect x="257.5" y="410.5" width="4" height="20" fill="#fff" stroke="#000" stroke-width="1"/>
<rect x="267" y="402" width="1" height="83" fill="#000"/>
<rect x="265" y="411" width="5" height="63" fill="#000"/>
<rect x="275" y="454" width="1" height="31" fill="#000"/>
<rect x="273" y="473" width="5" height="8" fill="#000"/>
<rect x="283" y="473" width="1" height="3" fill="#000"/>
<rect x="281.5" y="473.5" width="4" height="2" fill="#fff" stroke="#000" stroke-width="1"/>
<rect x="291" y="454" width="1" height="26" fill="#000"/>
<rect x="289" y="473" width="5" height="4" fill="#000"/>
<rect x="299" y="459" width="1" height="31" fill="#000"/>
<rect x="297" y="476" width="5" height="3" fill="#000"/>
<rect x="307" y="458" width="1" height="28" fill="#000"/>
<rect x="305.5" y="467.5" width="4" height="10" fill="#fff" stroke="#000" stroke-width="1"/>
<rect x="315" y="467" width="1" height="48" fill="#000"/>
<rect x="313" y="467" width="5" height="9" fill="#000"/>
<rect x="323" y="467" width="1" height="37" fill="#000"/>
<rect x="321" y="476" width="5" height="21" fill="#000"/>
<rect x="331" y="494" width="1" height="5" fill="#000"/>
<rect x="329" y="496" width="5" height="2" fill="#000"/>
<rect x="339" y="491" width="1" height="54" fill="#000"/>
<rect x="337" y="496" width="5" height="30" fill="#000"/>
<rect x="347" y="519" width="1" height="40" fill="#000"/>
<rect x="345" y="525" width="5" height="11" fill="#000"/>
<rect x="355" y="513" width="1" height="43" fill="#000"/>
<rect x="353" y="535" width="5" height="1" fill="#000"/>
<rect x="363" y="511" width="1" height="32" fill="#000"/>
<rect x="361.5" y="516.5" width="4" height="16" fill="#fff" stroke="#000" stroke-width="1"/>
<rect x="371" y="506" width="1" height="31" fill="#000"/>
<rect x="369" y="516" width="5" height="2" fill="#000"/>
<rect x="379" y="507" width="1" height="5" fill="#000"/>
<rect x="377.5" y="508.5" width="4" height="2" fill="#fff" stroke="#000" stroke-width="1"/>
<rect x="387" y="465" width="1" height="55" fill="#000"/>
<rect x="385.5" y="480.5" width="4" height="27" fill="#fff" stroke="#000" stroke-width="1"/>
<rect x="395" y="464" width="1" height="24" fill="#000"/>
<rect x="393.5" y="473.5" width="4" height="6" fill="#fff" stroke="#000" stroke-width="1"/>
<rect x="403" y="456" width="1" height="41" fill="#000"/>
<rect x="401.5" y="466.5" width="4" height="6" fill="#fff" stroke="#000" stroke-width="1"/>
<rect x="411" y="442" width="1" height="50" fill="#000"/>
<rect x="409" y="466" width="5" height="7" fill="#000"/>
<rect x="419" y="460" width="1" height="41" fill="#000"/>
<rect x="417.5" y="463.5" width="4" height="9" fill="#fff" stroke="#000" stroke-width="1"/>
<rect x="427" y="457" width="1" height="5" fill="#000"/>
<rect x="425" y="459" width="5" height="2" fill="#000"/>
<rect x="435" y="430" width="1" height="36" fill="#000"/>
<rect x="433.5" y="433.5" width="4" height="25" fill="#fff" stroke="#000" stroke-width="1"/>
<rect x="443" y="429" width="1" height="47" fill="#000"/>
<rect x="441" y="432" width="5" height="38" fill="#000"/>
<rect x="451" y="443" width="1" height="31" fill="#000"/>
<rect x="449.5" y="446.5" width="4" height="22" fill="#fff" stroke="#000" stroke-width="1"/>
<rect x="459" y="430" width="1" height="23" fill="#000"/>
<rect x="457.5" y="437.5" width="4" height="9" fill="#fff" stroke="#000" stroke-width="1"/>
<rect x="467" y="419" width="1" height="30" fill="#000"/>
<rect x="465.5" y="421.5" width="4" height="15" fill="#fff" stroke="#000" stroke-width="1"/>
<rect x="475" y="421" width="1" height="4" fill="#000"/>
<rect x="473" y="422" width="5" height="3" fill="#000"/>
<rect x="483" y="421" width="1" height="16" fill="#000"/>
<rect x="481" y="423" width="5" height="1" fill="#000"/>
<rect x="491" y="419" width="1" height="43" fill="#000"/>
<rect x="489" y="424" width="5" height="36" fill="#000"/>
<rect x="499" y="433" width="1" height="50" fill="#000"/>
<rect x="497.5" y="448.5" width="4" height="10" fill="#fff" stroke="#000" stroke-width="1"/>
<rect x="507" y="437" width="1" height="42" fill="#000"/>
<rect x="505" y="448" width="5" height="27" fill="#000"/>
<rect x="515" y="460" width="1" height="30" fill="#000"/>
<rect x="513.5" y="463.5" width="4" height="9" fill="#fff" stroke="#000" stroke-width="1"/>
<rect x="523" y="463" width="1" height="5" fill="#000"/>
<rect x="521.5" y="464.5" width="4" height="3" fill="#fff" stroke="#000" stroke-width="1"/>
<rect x="531" y="435" width="1" height="31" fill="#000"/>
<rect x="529.5" y="456.5" width="4" height="8" fill="#fff" stroke="#000" stroke-width="1"/>
<rect x="539" y="441" width="1" height="22" fill="#000"/>
<rect x="537.5" y="453.5" width="4" height="2" fill="#fff" stroke="#000" stroke-width="1"/>
<rect x="547" y="423" width="1" height="33" fill="#000"/>
<rect x="545.5" y="429.5" width="4" height="23" fill="#fff" stroke="#000" stroke-width="1"/>
<rect x="555" y="425" width="1" height="19" fill="#000"/>
<rect x="553" y="430" width="5" height="8" fill="#000"/>
<rect x="563" y="433" width="1" height="29" fill="#000"/>
<rect x="561" y="437" width="5" height="21" fill="#000"/>
<rect x="571" y="452" width="1" height="3" fill="#000"/>
<rect x="569.5" y="453.5" width="4" height="2" fill="#fff" stroke="#000" stroke-width="1"/>
<rect x="579" y="440" width="1" height="24" fill="#000"/>
<rect x="577" y="453" width="5" height="7" fill="#000"/>
<rect x="587" y="454" width="1" height="15" fill="#000"/>
<rect x="585" y="459" width="5" height="7" fill="#000"/>
<rect x="595" y="464" width="1" height="42" fill="#000"/>
<rect x="593" y="465" width="5" height="23" fill="#000"/>
<rect x="603" y="473" width="1" height="40" fill="#000"/>
<rect x="601" y="487" width="5" height="8" fill="#000"/>
<rect x="611" y="478" width="1" height="41" fill="#000"/>
<rect x="609.5" y="482.5" width="4" height="12" fill="#fff" stroke="#000" stroke-width="1"/>
<rect x="619" y="488" width="1" height="10" fill="#000"/>
<rect x="617" y="493" width="5" height="4" fill="#000"/>
<rect x="627" y="489" width="1" height="17" fill="#000"/>
<rect x="625.5" y="493.5" width="4" height="2" fill="#fff" stroke="#000" stroke-width="1"/>
<rect x="635" y="431" width="1" height="67" fill="#000"/>
<rect x="633.5" y="438.5" width="4" height="53" fill="#fff" stroke="#000" stroke-width="1"/>
<rect x="643" y="433" width="1" height="65" fill="#000"/>
<rect x="641" y="437" width="5" height="53" fill="#000"/>
<rect x="651" y="463" width="1" height="37" fill="#000"/>
<rect x="649.5" y="469.5" width="4" height="20" fill="#fff" stroke="#000" stroke-width="1"/>
<rect x="659" y="466" width="1" height="23" fill="#000"/>
<rect x="657" y="469" width="5" height="9" fill="#000"/>
<rect x="667" y="467" width="1" height="9" fill="#000"/>
<rect x="665.5" y="469.5" width="4" height="3" fill="#fff" stroke="#000" stroke-width="1"/>
<rect x="675" y="386" width="1" height="85" fill="#000"/>
<rect x="673.5" y="401.5" width="4" height="67" fill="#fff" stroke="#000" stroke-width="1"/>
<rect x="683" y="361" width="1" height="47" fill="#000"/>
<rect x="681.5" y="367.5" width="4" height="32" fill="#fff" stroke="#000" stroke-width="1"/>
<rect x="691" y="346" width="1" height="32" fill="#000"/>
<rect x="689" y="366" width="5" height="7" fill="#000"/>
<rect x="699" y="371" width="1" height="50" fill="#000"/>
<rect x="697" y="372" width="5" height="44" fill="#000"/>
<rect x="707" y="398" width="1" height="30" fill="#000"/>
<rect x="705" y="415" width="5" height="2" fill="#000"/>
<rect x="715" y="400" width="1" height="15" fill="#000"/>
<rect x="713.5" y="402.5" width="4" height="10" fill="#fff" stroke="#000" stroke-width="1"/>
<rect x="723" y="388" width="1" height="36" fill="#000"/>
<rect x="721" y="402" width="5" height="5" fill="#000"/>
<rect x="731" y="402" width="1" height="17" fill="#000"/>
<rect x="729" y="407" width="5" height="3" fill="#000"/>
<rect x="739" y="408" width="1" height="15" fill="#000"/>
<rect x="737" y="410" width="5" height="13" fill="#000"/>
<rect x="747" y="413" width="1" height="25" fill="#000"/>
<rect x="745" y="423" width="5" height="5" fill="#000"/>
<rect x="755" y="411" width="1" height="18" fill="#000"/>
<rect x="753.5" y="417.5" width="4" height="10" fill="#fff" stroke="#000" stroke-width="1"/>
<rect x="763" y="409" width="1" height="5" fill="#000"/>
<rect x="761.5" y="410.5" width="4" height="3" fill="#fff" stroke="#000" stroke-width="1"/>
<rect x="771" y="374" width="1" height="38" fill="#000"/>
<rect x="769.5" y="375.5" width="4" height="35" fill="#fff" stroke="#000" stroke-width="1"/>
<rect x="779" y="359" width="1" height="22" fill="#000"/>
<rect x="777.5" y="366.5" width="4" height="9" fill="#fff" stroke="#000" stroke-width="1"/>
<rect x="787" y="358" width="1" height="26" fill="#000"/>
<rect x="785.5" y="363.5" width="4" height="2" fill="#fff" stroke="#000" stroke-width="1"/>
<rect x="795" y="360" width="1" height="27" fill="#000"/>
<rect x="793" y="362" width="5" height="16" fill="#000"/>
<rect x="803" y="377" width="1" height="28" fill="#000"/>
<rect x="801" y="377" width="5" height="25" fill="#000"/>
<rect x="811" y="387" width="1" height="10" fill="#000"/>
<rect x="809.5" y="390.5" width="4" height="5" fill="#fff" stroke="#000" stroke-width="1"/>
<rect x="819" y="370" width="1" height="32" fill="#000"/>
<rect x="817.5" y="381.5" width="4" height="8" fill="#fff" stroke="#000" stroke-width="1"/>
<rect x="827" y="345" width="1" height="41" fill="#000"/>
<rect x="825.5" y="354.5" width="4" height="27" fill="#fff" stroke="#000" stroke-width="1"/>
<rect x="835" y="341" width="1" height="47" fill="#000"/>
<rect x="833" y="354" width="5" height="12" fill="#000"/>
<rect x="843" y="346" width="1" height="23" fill="#000"/>
<rect x="841" y="364" width="5" height="2" fill="#000"/>
<rect x="851" y="333" width="1" height="39" fill="#000"/>
<rect x="849.5" y="356.5" width="4" height="8" fill="#fff" stroke="#000" stroke-width="1"/>
<rect x="859" y="358" width="1" height="4" fill="#000"/>
<rect x="857" y="360" width="5" height="2" fill="#000"/>
<rect x="867" y="359" width="1" height="58" fill="#000"/>
<rect x="865" y="360" width="5" height="27" fill="#000"/>
<rect x="875" y="373" width="1" height="29" fill="#000"/>
<rect x="873.5" y="378.5" width="4" height="7" fill="#fff" stroke="#000" stroke-width="1"/>
<rect x="883" y="344" width="1" height="36" fill="#000"/>
<rect x="881.5" y="372.5" width="4" height="6" fill="#fff" stroke="#000" stroke-width="1"/>
<rect x="891" y="364" width="1" height="39" fill="#000"/>
<rect x="889" y="372" width="5" height="25" fill="#000"/>
<rect x="899" y="394" width="1" height="56" fill="#000"/>
<rect x="897" y="396" width="5" height="31" fill="#000"/>
<rect x="907" y="393" width="1" height="11" fill="#000"/>
<rect x="905" y="399" width="5" height="2" fill="#000"/>
<rect x="915" y="371" width="1" height="35" fill="#000"/>
<rect x="913.5" y="396.5" width="4" height="3" fill="#fff" stroke="#000" stroke-width="1"/>
<rect x="923" y="366" width="1" height="40" fill="#000"/>
<rect x="921.5" y="373.5" width="4" height="21" fill="#fff" stroke="#000" stroke-width="1"/>
<rect x="931" y="352" width="1" height="28" fill="#000"/>
<rect x="929.5" y="364.5" width="4" height="8" fill="#fff" stroke="#000" stroke-width="1"/>
<rect x="939" y="341" width="1" height="26" fill="#000"/>
<rect x="937.5" y="355.5" width="4" height="8" fill="#fff" stroke="#000" stroke-width="1"/>
<rect x="947" y="345" width="1" height="30" fill="#000"/>
<rect x="945" y="355" width="5" height="14" fill="#000"/>
<rect x="955" y="385" width="1" height="15" fill="#000"/>
<rect x="953" y="391" width="5" height="3" fill="#000"/>
<rect x="963" y="369" width="1" height="75" fill="#000"/>
<rect x="961.5" y="386.5" width="4" height="6" fill="#fff" stroke="#000" stroke-width="1"/>
<rect x="971" y="380" width="1" height="34" fill="#000"/>
<rect x="969" y="385" width="5" height="8" fill="#000"/>
<rect x="979" y="345" width="1" height="53" fill="#000"/>
<rect x="977.5" y="358.5" width="4" height="34" fill="#fff" stroke="#000" stroke-width="1"/>
<rect x="987" y="318" width="1" height="41" fill="#000"/>
<rect x="985.5" y="344.5" width="4" height="14" fill="#fff" stroke="#000" stroke-width="1"/>
<rect x="995" y="339" width="1" height="8" fill="#000"/>
<rect x="993.5" y="340.5" width="4" height="6" fill="#fff" stroke="#000" stroke-width="1"/>
<rect x="1003" y="337" width="1" height="33" fill="#000"/>
<rect x="1001" y="340" width="5" height="25" fill="#000"/>
<rect x="1011" y="349" width="1" height="17" fill="#000"/>
<rect x="1009.5" y="362.5" width="4" height="2" fill="#fff" stroke="#000" stroke-width="1"/>
<rect x="1019" y="334" width="1" height="30" fill="#000"/>
<rect x="1017.5" y="338.5" width="4" height="22" fill="#fff" stroke="#000" stroke-width="1"/>
<rect x="1027" y="317" width="1" height="27" fill="#000"/>
<rect x="1025.5" y="326.5" width="4" height="11" fill="#fff" stroke="#000" stroke-width="1"/>
<rect x="1035" y="316" width="1" height="13" fill="#000"/>
<rect x="1033.5" y="317.5" width="4" height="11" fill="#fff" stroke="#000" stroke-width="1"/>
<rect x="1043" y="316" width="1" height="48" fill="#000"/>
<rect x="1041" y="317" width="5" height="38" fill="#000"/>
<rect x="1051" y="350" width="1" height="19" fill="#000"/>
<rect x="1049" y="355" width="5" height="2" fill="#000"/>
<rect x="1059" y="337" width="1" height="24" fill="#000"/>
<rect x="1057.5" y="344.5" width="4" height="11" fill="#fff" stroke="#000" stroke-width="1"/>
<rect x="1067" y="325" width="1" height="27" fill="#000"/>
<rect x="1065.5" y="330.5" width="4" height="13" fill="#fff" stroke="#000" stroke-width="1"/>
<rect x="1075" y="315" width="1" height="18" fill="#000"/>
<rect x="1073.5" y="327.5" width="4" height="2" fill="#fff" stroke="#000" stroke-width="1"/>
<rect x="1083" y="327" width="1" height="10" fill="#000"/>
<rect x="1081" y="332" width="5" height="2" fill="#000"/>
<rect x="1091" y="327" width="1" height="18" fill="#000"/>
<rect x="1089.5" y="330.5" width="4" height="3" fill="#fff" stroke="#000" stroke-width="1"/>
<rect x="1099" y="294" width="1" height="39" fill="#000"/>
<rect x="1097.5" y="302.5" width="4" height="28" fill="#fff" stroke="#000" stroke-width="1"/>
<rect x="1107" y="288" width="1" height="22" fill="#000"/>
<rect x="1105" y="301" width="5" height="4" fill="#000"/>
<rect x="1115" y="288" width="1" height="19" fill="#000"/>
<rect x="1113.5" y="293.5" width="4" height="10" fill="#fff" stroke="#000" stroke-width="1"/>
<rect x="1123" y="292" width="1" height="35" fill="#000"/>
<rect x="1121" y="293" width="5" height="30" fill="#000"/>
<rect x="1131" y="319" width="1" height="9" fill="#000"/>
<rect x="1129.5" y="324.5" width="4" height="2" fill="#fff" stroke="#000" stroke-width="1"/>
<rect x="1139" y="322" width="1" height="23" fill="#000"/>
<rect x="1137" y="324" width="5" height="5" fill="#000"/>
<rect x="1147" y="302" width="1" height="28" fill="#000"/>
<rect x="1145.5" y="302.5" width="4" height="26" fill="#fff" stroke="#000" stroke-width="1"/>
<rect x="1155" y="285" width="1" height="38" fill="#000"/>
<rect x="1153" y="302" width="5" height="8" fill="#000"/>
<rect x="1163" y="289" width="1" height="24" fill="#000"/>
<rect x="1161.5" y="293.5" width="4" height="15" fill="#fff" stroke="#000" stroke-width="1"/>
<rect x="1171" y="289" width="1" height="21" fill="#000"/>
<rect x="1169" y="292" width="5" height="2" fill="#000"/>
<rect x="1179" y="292" width="1" height="6" fill="#000"/>
<rect x="1177.5" y="294.5" width="4" height="2" fill="#fff" stroke="#000" stroke-width="1"/>
<rect x="1187" y="285" width="1" height="21" fill="#000"/>
<rect x="1185" y="294" width="5" height="5" fill="#000"/>
<rect x="1195" y="282" width="1" height="35" fill="#000"/>
<rect x="1193.5" y="285.5" width="4" height="13" fill="#fff" stroke="#000" stroke-width="1"/>
<rect x="1203" y="270" width="1" height="20" fill="#000"/>
<rect x="1201" y="284" width="5" height="2" fill="#000"/>
<rect x="1211" y="258" width="1" height="31" fill="#000"/>
<rect x="1209.5" y="261.5" width="4" height="23" fill="#fff" stroke="#000" stroke-width="1"/>
<rect x="1219" y="238" width="1" height="29" fill="#000"/>
<rect x="1217.5" y="251.5" width="4" height="9" fill="#fff" stroke="#000" stroke-width="1"/>
<rect x="1227" y="248" width="1" height="8" fill="#000"/>
<rect x="1225" y="250" width="5" height="3" fill="#000"/>
<rect x="1235" y="233" width="1" height="25" fill="#000"/>
<rect x="1233" y="253" width="5" height="1" fill="#000"/>
<rect x="1243" y="243" width="1" height="20" fill="#000"/>
<rect x="1241" y="252" width="5" height="2" fill="#000"/>
<rect x="1251" y="245" width="1" height="18" fill="#000"/>
<rect x="1249" y="252" width="5" height="5" fill="#000"/>
<rect x="1259" y="226" width="1" height="45" fill="#000"/>
<rect x="1257.5" y="226.5" width="4" height="30" fill="#fff" stroke="#000" stroke-width="1"/>
<rect x="1267" y="210" width="1" height="20" fill="#000"/>
<rect x="1265.5" y="215.5" width="4" height="10" fill="#fff" stroke="#000" stroke-width="1"/>
<rect x="1275" y="213" width="1" height="7" fill="#000"/>
<rect x="1273.5" y="214.5" width="4" height="4" fill="#fff" stroke="#000" stroke-width="1"/>
<rect x="1283" y="209" width="1" height="16" fill="#000"/>
<rect x="1281" y="213" width="5" height="5" fill="#000"/>
<rect x="1291" y="216" width="1" height="20" fill="#000"/>
<rect x="1289" y="218" width="5" height="5" fill="#000"/>
<rect x="1299" y="205" width="1" height="21" fill="#000"/>
<rect x="1297.5" y="217.5" width="4" height="4" fill="#fff" stroke="#000" stroke-width="1"/>
<rect x="1307" y="210" width="1" height="10" fill="#000"/>
<rect x="1305" y="217" width="5" height="1" fill="#000"/>
<rect x="1315" y="193" width="1" height="29" fill="#000"/>
<rect x="1313.5" y="196.5" width="4" height="20" fill="#fff" stroke="#000" stroke-width="1"/>
<rect x="1323" y="185" width="1" height="12" fill="#000"/>
<rect x="1321.5" y="186.5" width="4" height="9" fill="#fff" stroke="#000" stroke-width="1"/>
<rect x="1331" y="158" width="1" height="31" fill="#000"/>
<rect x="1329.5" y="160.5" width="4" height="25" fill="#fff" stroke="#000" stroke-width="1"/>
<rect x="1339" y="132" width="1" height="31" fill="#000"/>
<rect x="1337.5" y="138.5" width="4" height="21" fill="#fff" stroke="#000" stroke-width="1"/>
<rect x="1347" y="137" width="1" height="29" fill="#000"/>
<rect x="1345" y="138" width="5" height="17" fill="#000"/>
<rect x="1355" y="125" width="1" height="37" fill="#000"/>
<rect x="1353.5" y="131.5" width="4" height="23" fill="#fff" stroke="#000" stroke-width="1"/>
<rect x="1363" y="114" width="1" height="25" fill="#000"/>
<rect x="1361.5" y="123.5" width="4" height="7" fill="#fff" stroke="#000" stroke-width="1"/>
<rect x="1371" y="117" width="1" height="8" fill="#000"/>
<rect x="1369.5" y="117.5" width="4" height="7" fill="#fff" stroke="#000" stroke-width="1"/>
<rect x="1379" y="110" width="1" height="23" fill="#000"/>
<rect x="1377" y="117" width="5" height="10" fill="#000"/>
<rect x="1387" y="98" width="1" height="31" fill="#000"/>
<rect x="1385.5" y="99.5" width="4" height="27" fill="#fff" stroke="#000" stroke-width="1"/>
<rect x="1395" y="61" width="1" height="39" fill="#000"/>
<rect x="1393.5" y="63.5" width="4" height="35" fill="#fff" stroke="#000" stroke-width="1"/>
<rect x="1403" y="45" width="1" height="60" fill="#000"/>
<rect x="1401" y="63" width="5" height="27" fill="#000"/>
<rect x="1411" y="89" width="1" height="47" fill="#000"/>
<rect x="1409" y="90" width="5" height="9" fill="#000"/>
<rect x="1419" y="92" width="1" height="16" fill="#000"/>
<rect x="1417.5" y="95.5" width="4" height="11" fill="#fff" stroke="#000" stroke-width="1"/>
<rect x="1427" y="80" width="1" height="28" fill="#000"/>
<rect x="1425" y="94" width="5" height="2" fill="#000"/>
<rect x="1435" y="83" width="1" height="33" fill="#000"/>
<rect x="1433" y="95" width="5" height="1" fill="#000"/>
<rect x="3" y="618" width="1" height="51" fill="#c0c0c0"/>
<rect x="11" y="617" width="1" height="52" fill="#c0c0c0"/>
<rect x="19" y="616" width="1" height="53" fill="#c0c0c0"/>
<rect x="27" y="614" width="1" height="55" fill="#c0c0c0"/>
<rect x="35" y="615" width="1" height="54" fill="#c0c0c0"/>
<rect x="43" y="616" width="1" height="53" fill="#c0c0c0"/>
<rect x="51" y="618" width="1" height="51" fill="#c0c0c0"/>
<rect x="59" y="617" width="1" height="52" fill="#c0c0c0"/>
<rect x="67" y="616" width="1" height="53" fill="#c0c0c0"/>
<rect x="75" y="613" width="1" height="56" fill="#c0c0c0"/>
<rect x="83" y="613" width="1" height="56" fill="#c0c0c0"/>
<rect x="91" y="614" width="1" height="55" fill="#c0c0c0"/>
<rect x="99" y="617" width="1" height="52" fill="#c0c0c0"/>
<rect x="107" y="618" width="1" height="51" fill="#c0c0c0"/>
<rect x="115" y="621" width="1" height="48" fill="#c0c0c0"/>
<rect x="123" y="622" width="1" height="47" fill="#c0c0c0"/>
<rect x="131" y="627" width="1" height="42" fill="#c0c0c0"/>
<rect x="139" y="632" width="1" height="37" fill="#c0c0c0"/>
<rect x="147" y="636" width="1" height="33" fill="#c0c0c0"/>
<rect x="155" y="634" width="1" height="35" fill="#c0c0c0"/>
<rect x="163" y="633" width="1" height="36" fill="#c0c0c0"/>
<rect x="171" y="629" width="1" height="40" fill="#c0c0c0"/>
<rect x="179" y="627" width="1" height="42" fill="#c0c0c0"/>
<rect x="187" y="625" width="1" height="44" fill="#c0c0c0"/>
<rect x="195" y="620" width="1" height="49" fill="#c0c0c0"/>
<rect x="203" y="617" width="1" height="52" fill="#c0c0c0"/>
<rect x="211" y="615" width="1" height="54" fill="#c0c0c0"/>
<rect x="219" y="618" width="1" height="51" fill="#c0c0c0"/>
<rect x="227" y="620" width="1" height="49" fill="#c0c0c0"/>
<rect x="235" y="623" width="1" height="46" fill="#c0c0c0"/>
<rect x="243" y="630" width="1" height="39" fill="#c0c0c0"/>
<rect x="251" y="646" width="1" height="23" fill="#c0c0c0"/>
<rect x="259" y="656" width="1" height="13" fill="#c0c0c0"/>
<rect x="267" y="669" width="1" height="2" fill="#c0c0c0"/>
<rect x="275" y="669" width="1" height="16" fill="#c0c0c0"/>
<rect x="283" y="669" width="1" height="26" fill="#c0c0c0"/>
<rect x="291" y="669" width="1" height="34" fill="#c0c0c0"/>
<rect x="299" y="669" width="1" height="40" fill="#c0c0c0"/>
<rect x="307" y="669" width="1" height="43" fill="#c0c0c0"/>
<rect x="315" y="669" width="1" height="45" fill="#c0c0c0"/>
<rect x="323" y="669" width="1" height="50" fill="#c0c0c0"/>
<rect x="331" y="669" width="1" height="53" fill="#c0c0c0"/>
<rect x="339" y="669" width="1" height="59" fill="#c0c0c0"/>
<rect x="347" y="669" width="1" height="64" fill="#c0c0c0"/>
<rect x="355" y="669" width="1" height="67" fill="#c0c0c0"/>
<rect x="363" y="669" width="1" height="66" fill="#c0c0c0"/>
<rect x="371" y="669" width="1" height="65" fill="#c0c0c0"/>
<rect x="379" y="669" width="1" height="62" fill="#c0c0c0"/>
<rect x="387" y="669" width="1" height="55" fill="#c0c0c0"/>
<rect x="395" y="669" width="1" height="48" fill="#c0c0c0"/>
<rect x="403" y="669" width="1" height="41" fill="#c0c0c0"/>
<rect x="411" y="669" width="1" height="36" fill="#c0c0c0"/>
<rect x="419" y="669" width="1" height="30" fill="#c0c0c0"/>
<rect x="427" y="669" width="1" height="25" fill="#c0c0c0"/>
<rect x="435" y="669" width="1" height="16" fill="#c0c0c0"/>
<rect x="443" y="669" width="1" height="15" fill="#c0c0c0"/>
<rect x="451" y="669" width="1" height="10" fill="#c0c0c0"/>
<rect x="459" y="669" width="1" height="5" fill="#c0c0c0"/>
<rect x="475" y="665" width="1" height="4" fill="#c0c0c0"/>
<rect x="483" y="661" width="1" height="8" fill="#c0c0c0"/>
<rect x="491" y="664" width="1" height="5" fill="#c0c0c0"/>
<rect x="499" y="664" width="1" height="5" fill="#c0c0c0"/>
<rect x="515" y="669" width="1" height="1" fill="#c0c0c0"/>
<rect x="531" y="668" width="1" height="1" fill="#c0c0c0"/>
<rect x="539" y="668" width="1" height="1" fill="#c0c0c0"/>
<rect x="547" y="667" width="1" height="2" fill="#c0c0c0"/>
<rect x="555" y="665" width="1" height="4" fill="#c0c0c0"/>
<rect x="563" y="667" width="1" height="2" fill="#c0c0c0"/>
<rect x="571" y="668" width="1" height="1" fill="#c0c0c0"/>
<rect x="595" y="669" width="1" height="4" fill="#c0c0c0"/>
<rect x="603" y="669" width="1" height="9" fill="#c0c0c0"/>
<rect x="611" y="669" width="1" height="11" fill="#c0c0c0"/>
<rect x="619" y="669" width="1" height="14" fill="#c0c0c0"/>
<rect x="627" y="669" width="1" height="16" fill="#c0c0c0"/>
<rect x="635" y="669" width="1" height="9" fill="#c0c0c0"/>
<rect x="643" y="669" width="1" height="10" fill="#c0c0c0"/>
<rect x="651" y="669" width="1" height="10" fill="#c0c0c0"/>
<rect x="659" y="669" width="1" height="10" fill="#c0c0c0"/>
<rect x="667" y="669" width="1" height="9" fill="#c0c0c0"/>
<rect x="675" y="668" width="1" height="1" fill="#c0c0c0"/>
<rect x="683" y="655" width="1" height="14" fill="#c0c0c0"/>
<rect x="691" y="645" width="1" height="24" fill="#c0c0c0"/>
<rect x="699" y="645" width="1" height="24" fill="#c0c0c0"/>
<rect x="707" y="644" width="1" height="25" fill="#c0c0c0"/>
<rect x="715" y="642" width="1" height="27" fill="#c0c0c0"/>
<rect x="723" y="642" width="1" height="27" fill="#c0c0c0"/>
<rect x="731" y="642" width="1" height="27" fill="#c0c0c0"/>
<rect x="739" y="644" width="1" height="25" fill="#c0c0c0"/>
<rect x="747" y="646" width="1" height="23" fill="#c0c0c0"/>
<rect x="755" y="648" width="1" height="21" fill="#c0c0c0"/>
<rect x="763" y="648" width="1" height="21" fill="#c0c0c0"/>
<rect x="771" y="643" width="1" height="26" fill="#c0c0c0"/>
<rect x="779" y="638" width="1" height="31" fill="#c0c0c0"/>
<rect x="787" y="636" width="1" height="33" fill="#c0c0c0"/>
<rect x="795" y="634" width="1" height="35" fill="#c0c0c0"/>
<rect x="803" y="638" width="1" height="31" fill="#c0c0c0"/>
<rect x="811" y="640" width="1" height="29" fill="#c0c0c0"/>
<rect x="819" y="639" width="1" height="30" fill="#c0c0c0"/>
<rect x="827" y="636" width="1" height="33" fill="#c0c0c0"/>
<rect x="835" y="636" width="1" height="33" fill="#c0c0c0"/>
<rect x="843" y="636" width="1" height="33" fill="#c0c0c0"/>
<rect x="851" y="634" width="1" height="35" fill="#c0c0c0"/>
<rect x="859" y="636" width="1" height="33" fill="#c0c0c0"/>
<rect x="867" y="640" width="1" height="29" fill="#c0c0c0"/>
<rect x="875" y="641" width="1" height="28" fill="#c0c0c0"/>
<rect x="883" y="643" width="1" height="26" fill="#c0c0c0"/>
<rect x="891" y="648" width="1" height="21" fill="#c0c0c0"/>
<rect x="899" y="656" width="1" height="13" fill="#c0c0c0"/>
<rect x="907" y="659" width="1" height="10" fill="#c0c0c0"/>
<rect x="915" y="660" width="1" height="9" fill="#c0c0c0"/>
<rect x="923" y="659" width="1" height="10" fill="#c0c0c0"/>
<rect x="931" y="656" width="1" height="13" fill="#c0c0c0"/>
<rect x="939" y="654" width="1" height="15" fill="#c0c0c0"/>
<rect x="947" y="654" width="1" height="15" fill="#c0c0c0"/>
<rect x="955" y="656" width="1" height="13" fill="#c0c0c0"/>
<rect x="963" y="659" width="1" height="10" fill="#c0c0c0"/>
<rect x="971" y="660" width="1" height="9" fill="#c0c0c0"/>
<rect x="979" y="658" width="1" height="11" fill="#c0c0c0"/>
<rect x="987" y="653" width="1" height="16" fill="#c0c0c0"/>
<rect x="995" y="650" width="1" height="19" fill="#c0c0c0"/>
<rect x="1003" y="651" width="1" height="18" fill="#c0c0c0"/>
<rect x="1011" y="651" width="1" height="18" fill="#c0c0c0"/>
<rect x="1019" y="649" width="1" height="20" fill="#c0c0c0"/>
<rect x="1027" y="645" width="1" height="24" fill="#c0c0c0"/>
<rect x="1035" y="641" width="1" height="28" fill="#c0c0c0"/>
<rect x="1043" y="644" width="1" height="25" fill="#c0c0c0"/>
<rect x="1051" y="647" width="1" height="22" fill="#c0c0c0"/>
<rect x="1059" y="647" width="1" height="22" fill="#c0c0c0"/>
<rect x="1067" y="646" width="1" height="23" fill="#c0c0c0"/>
<rect x="1075" y="644" width="1" height="25" fill="#c0c0c0"/>
<rect x="1083" y="644" width="1" height="25" fill="#c0c0c0"/>
<rect x="1091" y="644" width="1" height="25" fill="#c0c0c0"/>
<rect x="1099" y="641" width="1" height="28" fill="#c0c0c0"/>
<rect x="1107" y="639" width="1" height="30" fill="#c0c0c0"/>
<rect x="1115" y="636" width="1" height="33" fill="#c0c0c0"/>
<rect x="1123" y="639" width="1" height="30" fill="#c0c0c0"/>
<rect x="1131" y="641" width="1" height="28" fill="#c0c0c0"/>
<rect x="1139" y="644" width="1" height="25" fill="#c0c0c0"/>
<rect x="1147" y="643" width="1" height="26" fill="#c0c0c0"/>
<rect x="1155" y="643" width="1" height="26" fill="#c0c0c0"/>
<rect x="1163" y="642" width="1" height="27" fill="#c0c0c0"/>
<rect x="1171" y="640" width="1" height="29" fill="#c0c0c0"/>
<rect x="1179" y="639" width="1" height="30" fill="#c0c0c0"/>
<rect x="1187" y="639" width="1" height="30" fill="#c0c0c0"/>
<rect x="1195" y="639" width="1" height="30" fill="#c0c0c0"/>
<rect x="1203" y="639" width="1" height="30" fill="#c0c0c0"/>
<rect x="1211" y="635" width="1" height="34" fill="#c0c0c0"/>
<rect x="1219" y="632" width="1" height="37" fill="#c0c0c0"/>
<rect x="1227" y="630" width="1" height="39" fill="#c0c0c0"/>
<rect x="1235" y="628" width="1" height="41" fill="#c0c0c0"/>
<rect x="1243" y="628" width="1" height="41" fill="#c0c0c0"/>
<rect x="1251" y="628" width="1" height="41" fill="#c0c0c0"/>
<rect x="1259" y="625" width="1" height="44" fill="#c0c0c0"/>
<rect x="1267" y="621" width="1" height="48" fill="#c0c0c0"/>
<rect x="1275" y="619" width="1" height="50" fill="#c0c0c0"/>
<rect x="1283" y="618" width="1" height="51" fill="#c0c0c0"/>
<rect x="1291" y="619" width="1" height="50" fill="#c0c0c0"/>
<rect x="1299" y="620" width="1" height="49" fill="#c0c0c0"/>
<rect x="1307" y="620" width="1" height="49" fill="#c0c0c0"/>
<rect x="1315" y="618" width="1" height="51" fill="#c0c0c0"/>
<rect x="1323" y="616" width="1" height="53" fill="#c0c0c0"/>
<rect x="1331" y="611" width="1" height="58" fill="#c0c0c0"/>
<rect x="1339" y="605" width="1" height="64" fill="#c0c0c0"/>
<rect x="1347" y="603" width="1" height="66" fill="#c0c0c0"/>
<rect x="1355" y="600" width="1" height="69" fill="#c0c0c0"/>
<rect x="1363" y="597" width="1" height="72" fill="#c0c0c0"/>
<rect x="1371" y="595" width="1" height="74" fill="#c0c0c0"/>
<rect x="1379" y="594" width="1" height="75" fill="#c0c0c0"/>
<rect x="1387" y="590" width="1" height="79" fill="#c0c0c0"/>
<rect x="1395" y="584" width="1" height="85" fill="#c0c0c0"/>
<rect x="1403" y="585" width="1" height="84" fill="#c0c0c0"/>
<rect x="1411" y="589" width="1" height="80" fill="#c0c0c0"/>
<rect x="1419" y="590" width="1" height="79" fill="#c0c0c0"/>
<rect x="1427" y="592" width="1" height="77" fill="#c0c0c0"/>
<rect x="1435" y="593" width="1" height="76" fill="#c0c0c0"/>
<path d="M293.5 659v2M297.5 664v2M1420 589.5h3M1426 589.5h3M1432 589.5h3M1414 590.5h3M1409 591.5h2M1408 592.5h1M1404 593.5h1M1402 594.5h2M1397 596.5h2M1396 597.5h1M1391 598.5h2M1390 599.5h1M1384 600.5h3M1380 601.5h1M1378 602.5h2M1374 604.5h1M1372 605.5h2M1368 606.5h1M1366 607.5h2M1362 608.5h1M1360 609.5h2M1354 610.5h3M1348 612.5h3M1343 613.5h2M78 614.5h3M84 614.5h3M90 614.5h3M96 614.5h3M102 614.5h1M1338 614.5h1M1342 614.5h1M66 615.5h3M72 615.5h3M103 615.5h2M108 615.5h3M114 615.5h3M120 615.5h3M126 615.5h1M1336 615.5h2M56 616.5h1M60 616.5h3M127 616.5h2M132 616.5h3M1331 616.5h2M54 617.5h2M138 617.5h1M1330 617.5h1M48 618.5h3M139 618.5h2M1324 618.5h3M44 619.5h1M1318 619.5h3M42 620.5h2M144 620.5h2M1307 620.5h2M1312 620.5h3M146 621.5h1M234 621.5h3M240 621.5h3M1300 621.5h3M1306 621.5h1M37 622.5h2M150 622.5h3M223 622.5h2M228 622.5h3M246 622.5h3M1294 622.5h3M36 623.5h1M156 623.5h1M217 623.5h2M222 623.5h1M252 623.5h2M1288 623.5h3M30 624.5h3M157 624.5h2M212 624.5h1M216 624.5h1M254 624.5h1M1282 624.5h3M162 625.5h3M210 625.5h2M258 625.5h1M1276 625.5h3M24 626.5h3M168 626.5h3M204 626.5h3M259 626.5h2M1272 626.5h1M174 627.5h3M199 627.5h2M1270 627.5h2M20 628.5h1M180 628.5h3M186 628.5h3M192 628.5h3M198 628.5h1M1264 628.5h3M18 629.5h2M264 629.5h1M1260 629.5h1M265 630.5h2M1258 630.5h2M14 631.5h1M1252 631.5h3M12 632.5h2M1247 632.5h2M7 633.5h2M1242 633.5h1M1246 633.5h1M6 634.5h1M270 634.5h1M1240 634.5h2M271 635.5h1M846 635.5h1M850 635.5h3M856 635.5h3M862 635.5h3M1234 635.5h3M1 636.5h2M272 636.5h1M838 636.5h3M844 636.5h2M868 636.5h3M874 636.5h3M880 636.5h3M1228 636.5h3M0 637.5h1M832 637.5h3M886 637.5h3M1223 637.5h2M820 638.5h3M826 638.5h3M892 638.5h2M1216 638.5h3M1222 638.5h1M809 639.5h2M814 639.5h3M894 639.5h1M1162 639.5h3M1168 639.5h3M1174 639.5h1M1210 639.5h3M276 640.5h1M802 640.5h3M808 640.5h1M898 640.5h3M1144 640.5h3M1150 640.5h3M1156 640.5h3M1175 640.5h2M1180 640.5h3M1186 640.5h3M1192 640.5h3M1198 640.5h3M1204 640.5h3M277 641.5h1M784 641.5h3M790 641.5h3M796 641.5h3M904 641.5h2M1132 641.5h3M1138 641.5h3M278 642.5h1M778 642.5h3M906 642.5h1M1114 642.5h3M1120 642.5h3M1126 642.5h3M748 643.5h3M754 643.5h3M760 643.5h3M766 643.5h3M772 643.5h3M910 643.5h1M1102 643.5h3M1108 643.5h3M744 644.5h1M911 644.5h2M1074 644.5h1M1078 644.5h3M1084 644.5h3M1090 644.5h3M1096 644.5h3M742 645.5h2M916 645.5h1M1067 645.5h2M1072 645.5h2M281 646.5h1M917 646.5h2M1056 646.5h1M1060 646.5h3M1066 646.5h1M282 647.5h1M737 647.5h2M1048 647.5h3M1054 647.5h2M283 648.5h1M736 648.5h1M922 648.5h3M1042 648.5h3M732 649.5h1M928 649.5h1M1036 649.5h3M730 650.5h2M929 650.5h2M934 650.5h1M1032 650.5h1M935 651.5h2M940 651.5h2M1030 651.5h2M286 652.5h1M726 652.5h1M942 652.5h1M946 652.5h2M1024 652.5h3M287 653.5h1M724 653.5h2M948 653.5h1M952 653.5h1M1018 653.5h3M288 654.5h1M953 654.5h2M994 654.5h3M1000 654.5h3M1006 654.5h3M1012 654.5h3M958 655.5h3M982 655.5h3M988 655.5h3M719 656.5h2M964 656.5h3M970 656.5h3M976 656.5h3M718 657.5h1M292 658.5h1M714 659.5h1M712 660.5h2M708 662.5h1M706 663.5h2M702 665.5h1M298 666.5h1M520 666.5h3M526 666.5h3M532 666.5h3M538 666.5h3M544 666.5h3M550 666.5h3M556 666.5h3M700 666.5h2M514 667.5h3M562 667.5h3M568 667.5h3M574 667.5h3M580 667.5h3M586 667.5h3M592 667.5h3M598 667.5h3M508 668.5h3M696 668.5h1M504 669.5h1M604 669.5h3M695 669.5h1M301 670.5h1M502 670.5h2M610 670.5h3M694 670.5h1M302 671.5h1M498 671.5h1M616 671.5h3M303 672.5h1M496 672.5h2M622 672.5h3M689 672.5h2M491 673.5h2M628 673.5h1M688 673.5h1M490 674.5h1M629 674.5h2M634 675.5h3M684 675.5h1M306 676.5h1M486 676.5h1M640 676.5h2M682 676.5h2M307 677.5h1M485 677.5h1M642 677.5h1M646 677.5h1M678 677.5h1M308 678.5h1M484 678.5h1M647 678.5h2M652 678.5h3M676 678.5h2M658 679.5h3M671 679.5h2M480 680.5h1M664 680.5h3M670 680.5h1M478 681.5h2M311 682.5h1M312 683.5h1M474 683.5h1M313 684.5h1M473 684.5h1M472 685.5h1M468 687.5h1M316 688.5h1M466 688.5h2M317 689.5h1M318 690.5h1M462 691.5h1M461 692.5h1M460 693.5h1M322 694.5h1M323 695.5h1M324 696.5h1M456 696.5h1M455 697.5h1M454 698.5h1M328 700.5h1M329 701.5h1M450 701.5h1M330 702.5h1M449 702.5h1M448 703.5h1M444 705.5h1M334 706.5h1M443 706.5h1M335 707.5h1M442 707.5h1M336 708.5h1M438 709.5h1M436 710.5h2M340 711.5h2M342 712.5h1M432 713.5h1M346 714.5h2M430 714.5h2M348 715.5h1M352 716.5h1M353 717.5h1M425 717.5h2M354 718.5h1M424 718.5h1M358 720.5h2M420 720.5h1M360 721.5h1M418 721.5h2M364 723.5h1M414 723.5h1M365 724.5h2M412 724.5h2M370 725.5h3M376 726.5h3M406 726.5h3M402 727.5h1M382 728.5h3M395 728.5h2M400 728.5h2M388 729.5h3M394 729.5h1" fill="none" stroke="#ff0000" stroke-width="1"/>
<line x1="0" y1="782.5" x2="1685" y2="782.5" stroke="#c0c0c0" stroke-width="1" stroke-dasharray="3 3"/>
<line x1="0" y1="833.5" x2="1685" y2="833.5" stroke="#c0c0c0" stroke-width="1" stroke-dasharray="3 3"/>
<line x1="0" y1="894.5" x2="1685" y2="894.5" stroke="#c0c0c0" stroke-width="1" stroke-dasharray="3 3"/>
<path d="M4.5 790v2M7.5 794v2M10.5 798v2M31.5 799v2M92.5 798v3M94.5 802v3M96.5 806v3M98.5 810v3M123.5 809v2M124.5 811v2M125.5 813v2M126.5 815v2M127.5 817v3M128.5 820v2M129.5 822v2M130.5 824v2M131.5 826v2M148.5 824v3M150.5 820v3M152.5 816v3M154.5 812v3M211.5 796v2M212.5 798v2M213.5 800v3M214.5 803v3M215.5 806v2M216.5 808v3M217.5 811v3M218.5 814v2M219.5 816v2M236.5 819v2M237.5 821v2M238.5 823v2M240.5 826v2M241.5 828v2M242.5 830v2M243.5 832v2M244.5 834v3M245.5 837v3M246.5 840v3M247.5 843v4M248.5 847v3M249.5 850v3M250.5 853v3M251.5 856v2M255.5 852v2M260.5 849v2M261.5 851v2M262.5 853v2M263.5 855v2M264.5 857v2M265.5 859v2M266.5 861v2M356.5 871v2M359.5 867v2M362.5 863v2M380.5 855v2M381.5 853v2M382.5 851v2M383.5 849v2M384.5 847v2M385.5 845v2M386.5 843v2M428.5 830v2M430.5 827v2M432.5 824v2M434.5 821v2M435.5 820v2M436.5 822v2M437.5 824v2M438.5 826v2M439.5 828v2M440.5 830v2M441.5 832v2M442.5 834v2M443.5 836v2M445.5 834v2M449.5 829v2M483.5 820v2M484.5 822v2M485.5 824v2M486.5 826v2M487.5 828v2M488.5 830v2M489.5 832v2M490.5 834v2M491.5 836v2M501.5 834v2M505.5 839v2M540.5 831v2M543.5 827v2M546.5 823v2M556.5 826v2M559.5 830v2M562.5 834v2M589.5 842v2M593.5 847v2M627.5 847v2M628.5 844v3M629.5 840v4M630.5 837v3M631.5 834v3M632.5 831v3M633.5 827v4M634.5 824v3M635.5 822v2M636.5 824v2M637.5 826v3M638.5 829v3M639.5 832v2M640.5 834v3M641.5 837v3M642.5 840v2M643.5 842v2M667.5 834v2M668.5 831v3M669.5 829v2M670.5 826v3M671.5 823v3M672.5 820v3M673.5 818v2M674.5 815v3M675.5 813v2M691.5 807v2M692.5 809v2M693.5 811v2M694.5 813v2M695.5 815v2M696.5 817v2M697.5 819v2M698.5 821v2M699.5 823v2M764.5 822v2M767.5 818v2M770.5 814v2M797.5 819v2M801.5 824v2M860.5 817v2M861.5 819v2M862.5 821v2M864.5 824v2M865.5 826v2M866.5 828v2M885.5 826v2M889.5 831v2M892.5 835v2M893.5 837v2M895.5 840v2M897.5 843v2M898.5 845v2M900.5 845v2M903.5 841v2M906.5 837v2M919.5 829v2M948.5 826v2M951.5 830v2M954.5 834v2M972.5 833v2M973.5 831v2M974.5 829v2M976.5 826v2M977.5 824v2M978.5 822v2M996.5 816v2M998.5 819v2M1000.5 822v2M1002.5 825v2M1035.5 810v2M1036.5 812v2M1037.5 814v2M1038.5 816v3M1039.5 819v2M1040.5 821v3M1041.5 824v2M1042.5 826v2M1043.5 828v2M1093.5 817v2M1097.5 812v2M1115.5 807v2M1116.5 809v2M1117.5 811v2M1118.5 813v2M1119.5 815v3M1120.5 818v2M1121.5 820v2M1122.5 822v2M1123.5 824v2M1140.5 825v2M1142.5 822v2M1144.5 819v2M1146.5 816v2M1207.5 805v2M1252.5 802v2M1253.5 800v2M1255.5 797v2M1257.5 794v2M1258.5 792v2M1340.5 774v3M1342.5 778v3M1344.5 782v3M1346.5 786v3M1395.5 776v2M1396.5 778v2M1397.5 780v2M1398.5 782v2M1399.5 784v3M1400.5 787v2M1401.5 789v2M1402.5 791v2M1403.5 793v2M1339 773.5h1M1337 774.5h2M1336 775.5h1M1334 776.5h2M1332 777.5h2M1341 777.5h1M1394 777.5h1M1331 778.5h1M1392 778.5h2M1330 779.5h1M1391 779.5h1M1329 780.5h1M1369 780.5h3M1389 780.5h2M1328 781.5h1M1343 781.5h1M1366 781.5h3M1372 781.5h1M1388 781.5h1M1326 782.5h2M1359 782.5h7M1373 782.5h1M1387 782.5h1M1325 783.5h1M1355 783.5h4M1374 783.5h1M1385 783.5h2M1324 784.5h1M1353 784.5h2M1375 784.5h2M1383 784.5h2M1322 785.5h2M1345 785.5h1M1352 785.5h1M1377 785.5h1M1382 785.5h1M1319 786.5h3M1351 786.5h1M1378 786.5h1M1380 786.5h2M1317 787.5h2M1350 787.5h1M1379 787.5h1M1266 788.5h10M1315 788.5h2M1348 788.5h2M0 789.5h4M1264 789.5h2M1276 789.5h2M1314 789.5h1M1347 789.5h1M1261 790.5h3M1278 790.5h2M1313 790.5h1M75 791.5h1M1259 791.5h2M1280 791.5h1M1312 791.5h1M5 792.5h1M72 792.5h3M76 792.5h1M1281 792.5h2M1310 792.5h2M6 793.5h1M71 793.5h1M77 793.5h1M1283 793.5h1M1309 793.5h1M68 794.5h3M78 794.5h1M1284 794.5h3M1308 794.5h1M24 795.5h4M67 795.5h1M79 795.5h1M202 795.5h5M1287 795.5h1M1298 795.5h10M1404 795.5h2M8 796.5h1M18 796.5h6M28 796.5h1M64 796.5h3M80 796.5h1M197 796.5h5M207 796.5h4M1256 796.5h1M1288 796.5h3M1293 796.5h5M1406 796.5h2M9 797.5h1M17 797.5h1M29 797.5h1M63 797.5h1M81 797.5h1M90 797.5h2M195 797.5h2M1291 797.5h2M1408 797.5h1M14 798.5h3M30 798.5h1M60 798.5h3M82 798.5h1M85 798.5h5M193 798.5h2M1218 798.5h4M1409 798.5h2M1415 798.5h21M13 799.5h1M58 799.5h2M83 799.5h2M192 799.5h1M1216 799.5h2M1222 799.5h3M1254 799.5h1M1411 799.5h4M11 800.5h2M55 800.5h3M191 800.5h1M1213 800.5h3M1225 800.5h20M32 801.5h1M53 801.5h2M93 801.5h1M190 801.5h1M1211 801.5h2M1245 801.5h1M33 802.5h1M51 802.5h2M188 802.5h2M1210 802.5h1M1246 802.5h3M34 803.5h1M50 803.5h1M171 803.5h2M186 803.5h2M1209 803.5h1M1249 803.5h1M35 804.5h2M48 804.5h2M170 804.5h1M173 804.5h5M181 804.5h5M1208 804.5h1M1250 804.5h2M37 805.5h1M47 805.5h1M95 805.5h1M169 805.5h1M178 805.5h3M38 806.5h3M45 806.5h2M168 806.5h1M683 806.5h5M41 807.5h1M44 807.5h1M107 807.5h1M167 807.5h1M682 807.5h1M688 807.5h3M1206 807.5h1M42 808.5h2M105 808.5h2M108 808.5h1M166 808.5h1M681 808.5h1M1112 808.5h3M1205 808.5h1M97 809.5h1M104 809.5h1M109 809.5h1M165 809.5h1M680 809.5h1M784 809.5h4M1111 809.5h1M1204 809.5h1M103 810.5h1M110 810.5h1M121 810.5h2M164 810.5h1M678 810.5h2M778 810.5h6M788 810.5h1M1034 810.5h1M1099 810.5h5M1108 810.5h3M1199 810.5h5M102 811.5h1M111 811.5h1M120 811.5h1M155 811.5h9M677 811.5h1M776 811.5h2M789 811.5h1M1032 811.5h2M1098 811.5h1M1104 811.5h4M1195 811.5h4M100 812.5h2M112 812.5h1M119 812.5h1M227 812.5h1M676 812.5h1M773 812.5h3M790 812.5h1M827 812.5h1M1029 812.5h3M1193 812.5h2M99 813.5h1M113 813.5h1M118 813.5h1M225 813.5h2M228 813.5h1M771 813.5h2M791 813.5h1M826 813.5h1M828 813.5h2M1027 813.5h2M1192 813.5h1M114 814.5h1M116 814.5h2M223 814.5h2M229 814.5h2M792 814.5h1M825 814.5h1M830 814.5h2M850 814.5h4M1025 814.5h2M1096 814.5h1M1163 814.5h13M1191 814.5h1M115 815.5h1M153 815.5h1M222 815.5h1M231 815.5h1M793 815.5h1M824 815.5h1M832 815.5h1M848 815.5h2M854 815.5h3M994 815.5h2M1024 815.5h1M1095 815.5h1M1147 815.5h1M1161 815.5h2M1176 815.5h5M1190 815.5h1M220 816.5h2M232 816.5h2M769 816.5h1M794 816.5h1M823 816.5h1M833 816.5h2M845 816.5h3M857 816.5h3M989 816.5h5M1022 816.5h2M1094 816.5h1M1148 816.5h3M1159 816.5h2M1181 816.5h5M1188 816.5h2M234 817.5h1M768 817.5h1M795 817.5h1M822 817.5h1M835 817.5h10M987 817.5h2M1020 817.5h2M1151 817.5h1M1158 817.5h1M1186 817.5h2M235 818.5h1M796 818.5h1M821 818.5h1M938 818.5h2M984 818.5h3M997 818.5h1M1019 818.5h1M1071 818.5h6M1145 818.5h1M1152 818.5h3M1156 818.5h2M151 819.5h1M467 819.5h4M820 819.5h1M936 819.5h2M940 819.5h1M983 819.5h1M1018 819.5h1M1067 819.5h4M1077 819.5h2M1092 819.5h1M1155 819.5h1M464 820.5h3M471 820.5h12M715 820.5h3M766 820.5h1M818 820.5h2M933 820.5h3M941 820.5h1M980 820.5h3M1017 820.5h1M1065 820.5h2M1079 820.5h3M1087 820.5h5M463 821.5h1M713 821.5h2M718 821.5h3M765 821.5h1M798 821.5h1M817 821.5h1M931 821.5h2M942 821.5h1M979 821.5h1M999 821.5h1M1016 821.5h1M1064 821.5h1M1082 821.5h5M1143 821.5h1M460 822.5h3M547 822.5h2M711 822.5h2M721 822.5h5M799 822.5h1M814 822.5h3M928 822.5h3M943 822.5h2M1015 822.5h1M1062 822.5h2M149 823.5h1M433 823.5h1M459 823.5h1M549 823.5h2M710 823.5h1M726 823.5h3M800 823.5h1M813 823.5h1M863 823.5h1M927 823.5h1M945 823.5h1M1014 823.5h1M1060 823.5h2M456 824.5h3M551 824.5h3M700 824.5h4M708 824.5h2M729 824.5h4M762 824.5h2M810 824.5h3M879 824.5h5M924 824.5h3M946 824.5h1M1001 824.5h1M1013 824.5h1M1059 824.5h1M1141 824.5h1M239 825.5h1M455 825.5h1M545 825.5h1M554 825.5h2M704 825.5h4M733 825.5h2M760 825.5h2M808 825.5h2M875 825.5h4M884 825.5h1M923 825.5h1M947 825.5h1M1012 825.5h1M1057 825.5h2M1124 825.5h9M135 826.5h9M431 826.5h1M452 826.5h3M544 826.5h1M735 826.5h3M757 826.5h3M802 826.5h1M805 826.5h3M873 826.5h2M922 826.5h1M1007 826.5h5M1055 826.5h2M1133 826.5h5M132 827.5h3M144 827.5h4M451 827.5h1M738 827.5h3M754 827.5h3M803 827.5h2M872 827.5h1M921 827.5h1M1003 827.5h4M1054 827.5h1M1138 827.5h2M450 828.5h1M557 828.5h1M741 828.5h3M751 828.5h3M870 828.5h2M886 828.5h1M920 828.5h1M949 828.5h1M975 828.5h1M1052 828.5h2M429 829.5h1M542 829.5h1M558 829.5h1M744 829.5h2M749 829.5h2M868 829.5h2M887 829.5h1M950 829.5h1M1044 829.5h8M541 830.5h1M746 830.5h3M867 830.5h1M888 830.5h1M448 831.5h1M918 831.5h1M425 832.5h3M447 832.5h1M499 832.5h1M560 832.5h1M917 832.5h1M952 832.5h1M962 832.5h3M422 833.5h3M446 833.5h1M497 833.5h2M500 833.5h1M536 833.5h4M561 833.5h1M890 833.5h1M916 833.5h1M953 833.5h1M961 833.5h1M965 833.5h2M418 834.5h4M495 834.5h2M530 834.5h6M569 834.5h4M891 834.5h1M913 834.5h3M958 834.5h3M967 834.5h3M417 835.5h1M494 835.5h1M529 835.5h1M566 835.5h3M573 835.5h2M651 835.5h2M666 835.5h1M910 835.5h3M957 835.5h1M970 835.5h2M402 836.5h4M414 836.5h3M444 836.5h1M492 836.5h2M502 836.5h1M526 836.5h3M563 836.5h3M575 836.5h3M650 836.5h1M653 836.5h3M663 836.5h3M907 836.5h3M955 836.5h2M400 837.5h2M406 837.5h3M413 837.5h1M503 837.5h1M525 837.5h1M578 837.5h3M649 837.5h1M656 837.5h2M661 837.5h2M397 838.5h3M409 838.5h4M504 838.5h1M514 838.5h11M581 838.5h3M648 838.5h1M658 838.5h3M394 839.5h3M513 839.5h1M584 839.5h2M647 839.5h1M894 839.5h1M905 839.5h1M391 840.5h3M510 840.5h3M586 840.5h2M646 840.5h1M904 840.5h1M389 841.5h2M506 841.5h1M509 841.5h1M588 841.5h1M645 841.5h1M387 842.5h2M507 842.5h2M644 842.5h1M896 842.5h1M902 843.5h1M590 844.5h1M901 844.5h1M591 845.5h1M611 845.5h1M592 846.5h1M610 846.5h1M612 846.5h2M609 847.5h1M614 847.5h1M899 847.5h1M259 848.5h1M608 848.5h1M615 848.5h1M626 848.5h1M258 849.5h1M594 849.5h1M607 849.5h1M616 849.5h1M624 849.5h2M257 850.5h1M595 850.5h2M606 850.5h1M617 850.5h2M621 850.5h3M256 851.5h1M597 851.5h2M605 851.5h1M619 851.5h2M599 852.5h3M604 852.5h1M602 853.5h2M254 854.5h1M253 855.5h1M252 856.5h1M307 857.5h2M379 857.5h1M305 858.5h2M309 858.5h5M377 858.5h2M304 859.5h1M314 859.5h2M376 859.5h1M302 860.5h2M316 860.5h2M375 860.5h1M282 861.5h5M300 861.5h2M318 861.5h1M374 861.5h1M279 862.5h3M287 862.5h13M319 862.5h1M363 862.5h5M372 862.5h2M267 863.5h4M277 863.5h2M320 863.5h1M368 863.5h4M271 864.5h6M321 864.5h2M327 864.5h5M323 865.5h4M332 865.5h1M361 865.5h1M333 866.5h1M360 866.5h1M334 867.5h1M335 868.5h2M337 869.5h1M358 869.5h1M338 870.5h1M357 870.5h1M339 871.5h2M341 872.5h5M346 873.5h10" fill="none" stroke="#1e90ff" stroke-width="1"/>
<rect x="1361" y="85" width="143" height="7" fill="#00ff00"/>
<rect x="0" y="19" width="1686" height="1" fill="#000"/>
<rect x="1685" y="19" width="1" height="902" fill="#000"/>
<rect x="0" y="572" width="1686" height="1" fill="#000"/>
<rect x="0" y="574" width="1686" height="1" fill="#000"/>
<rect x="0" y="744" width="1686" height="1" fill="#000"/>
<rect x="0" y="746" width="1686" height="1" fill="#000"/>
<rect x="0" y="920" width="1686" height="1" fill="#000"/>
<rect x="1686" y="41" width="2" height="1" fill="#000"/>
<rect x="1686" y="74" width="2" height="1" fill="#000"/>
<rect x="1686" y="107" width="2" height="1" fill="#000"/>
<rect x="1686" y="140" width="2" height="1" fill="#000"/>
<rect x="1686" y="173" width="2" height="1" fill="#000"/>
<rect x="1686" y="206" width="2" height="1" fill="#000"/>
<rect x="1686" y="239" width="2" height="1" fill="#000"/>
<rect x="1686" y="272" width="2" height="1" fill="#000"/>
<rect x="1686" y="305" width="2" height="1" fill="#000"/>
<rect x="1686" y="338" width="2" height="1" fill="#000"/>
<rect x="1686" y="371" width="2" height="1" fill="#000"/>
<rect x="1686" y="404" width="2" height="1" fill="#000"/>
<rect x="1686" y="437" width="2" height="1" fill="#000"/>
<rect x="1686" y="470" width="2" height="1" fill="#000"/>
<rect x="1686" y="503" width="2" height="1" fill="#000"/>
<rect x="1686" y="536" width="2" height="1" fill="#000"/>
<rect x="1686" y="569" width="2" height="1" fill="#000"/>
<rect x="1686" y="576" width="1" height="1" fill="#000"/>
<rect x="1686" y="668" width="1" height="1" fill="#000"/>
<rect x="1686" y="742" width="1" height="1" fill="#000"/>
<rect x="1686" y="748" width="1" height="1" fill="#000"/>
<rect x="1686" y="919" width="1" height="1" fill="#000"/>
<rect x="1686" y="668" width="2" height="1" fill="#000"/>
<rect x="1685" y="573" width="1" height="1" fill="#fff"/><rect x="1685" y="745" width="1" height="1" fill="#fff"/>
<rect x="59" y="921" width="1" height="4" fill="#000"/>
<rect x="123" y="921" width="1" height="4" fill="#000"/>
<rect x="187" y="921" width="1" height="4" fill="#000"/>
<rect x="251" y="921" width="1" height="4" fill="#000"/>
<rect x="315" y="921" width="1" height="4" fill="#000"/>
<rect x="379" y="921" width="1" height="4" fill="#000"/>
<rect x="443" y="921" width="1" height="4" fill="#000"/>
<rect x="507" y="921" width="1" height="4" fill="#000"/>
<rect x="571" y="921" width="1" height="4" fill="#000"/>
<rect x="635" y="921" width="1" height="4" fill="#000"/>
<rect x="699" y="921" width="1" height="4" fill="#000"/>
<rect x="763" y="921" width="1" height="4" fill="#000"/>
<rect x="827" y="921" width="1" height="4" fill="#000"/>
<rect x="891" y="921" width="1" height="4" fill="#000"/>
<rect x="955" y="921" width="1" height="4" fill="#000"/>
<rect x="1019" y="921" width="1" height="4" fill="#000"/>
<rect x="1083" y="921" width="1" height="4" fill="#000"/>
<rect x="1147" y="921" width="1" height="4" fill="#000"/>
<rect x="1211" y="921" width="1" height="4" fill="#000"/>
<rect x="1275" y="921" width="1" height="4" fill="#000"/>
<rect x="1339" y="921" width="1" height="4" fill="#000"/>
<rect x="1403" y="921" width="1" height="4" fill="#000"/>
</g>
<polygon points="1442,19 1453,19 1447.5,25" fill="#c0c0c0"/>
<line x1="1203.0" y1="302.0" x2="1395.7" y2="57.1" stroke="#ff0000" stroke-width="3.2" shape-rendering="crispEdges"/>
<polygon points="1402.5,48.5 1399.3,60.0 1392.1,54.3" fill="#ff0000" shape-rendering="crispEdges"/>
<line x1="1402.5" y1="49.0" x2="1409.9" y2="120.1" stroke="#ff0000" stroke-width="3.2" shape-rendering="crispEdges"/>
<polygon points="1411.0,131.0 1405.3,120.5 1414.4,119.6" fill="#ff0000" shape-rendering="crispEdges"/>
<line x1="1411.0" y1="131.0" x2="1436.0" y2="101.0" stroke="#ff0000" stroke-width="3.2" shape-rendering="crispEdges"/>
<polygon points="1443.0,92.5 1439.5,103.9 1432.4,98.0" fill="#ff0000" shape-rendering="crispEdges"/>
<line x1="1210.0" y1="644.7" x2="1384.5" y2="587.9" stroke="#ff0000" stroke-width="3.2" shape-rendering="crispEdges"/>
<polygon points="1395.0,584.5 1386.0,592.3 1383.1,583.5" fill="#ff0000" shape-rendering="crispEdges"/>
<line x1="1395.0" y1="584.5" x2="1444.6" y2="592.0" stroke="#ff0000" stroke-width="3.2" shape-rendering="crispEdges"/>
<polygon points="1455.5,593.7 1443.9,596.6 1445.3,587.5" fill="#ff0000" shape-rendering="crispEdges"/>
<line x1="1323.0" y1="787.0" x2="1379.0" y2="784.2" stroke="#ff0000" stroke-width="3.2" shape-rendering="crispEdges"/>
<polygon points="1390.0,783.6 1379.2,788.8 1378.8,779.6" fill="#ff0000" shape-rendering="crispEdges"/>
<line x1="1390.0" y1="783.6" x2="1437.4" y2="796.3" stroke="#ff0000" stroke-width="3.2" shape-rendering="crispEdges"/>
<polygon points="1448.0,799.2 1436.2,800.8 1438.6,791.9" fill="#ff0000" shape-rendering="crispEdges"/>
<path d="M193 273.5 H203.5" stroke="#ff0000" fill="none" stroke-width="1" shape-rendering="crispEdges"/>
<rect x="132.5" y="264.5" width="61" height="18" fill="#fff" stroke="#ff0000" stroke-width="1" shape-rendering="crispEdges"/>
<text x="135" y="278.8" font-size="16" fill="#ff0000" textLength="56" lengthAdjust="spacingAndGlyphs">142.715</text>
<path d="M337 558.5 H347.5" stroke="#ff0000" fill="none" stroke-width="1" shape-rendering="crispEdges"/>
<rect x="276.5" y="549.5" width="61" height="18" fill="#fff" stroke="#ff0000" stroke-width="1" shape-rendering="crispEdges"/>
<text x="279" y="563.8" font-size="16" fill="#ff0000" textLength="56" lengthAdjust="spacingAndGlyphs">133.049</text>
<path d="M601 519.5 H611.5" stroke="#ff0000" fill="none" stroke-width="1" shape-rendering="crispEdges"/>
<rect x="540.5" y="510.5" width="61" height="18" fill="#fff" stroke="#ff0000" stroke-width="1" shape-rendering="crispEdges"/>
<text x="543" y="524.8" font-size="16" fill="#ff0000" textLength="56" lengthAdjust="spacingAndGlyphs">134.382</text>
<path d="M681 346.5 H691.5" stroke="#ff0000" fill="none" stroke-width="1" shape-rendering="crispEdges"/>
<rect x="620.5" y="337.5" width="61" height="18" fill="#fff" stroke="#ff0000" stroke-width="1" shape-rendering="crispEdges"/>
<text x="623" y="351.8" font-size="16" fill="#ff0000" textLength="56" lengthAdjust="spacingAndGlyphs">140.248</text>
<path d="M953 444.5 H963.5" stroke="#ff0000" fill="none" stroke-width="1" shape-rendering="crispEdges"/>
<rect x="892.5" y="435.5" width="61" height="18" fill="#fff" stroke="#ff0000" stroke-width="1" shape-rendering="crispEdges"/>
<text x="895" y="449.8" font-size="16" fill="#ff0000" textLength="56" lengthAdjust="spacingAndGlyphs">136.933</text>
<path d="M1393 45.5 H1403.5" stroke="#ff0000" fill="none" stroke-width="1" shape-rendering="crispEdges"/>
<rect x="1332.5" y="36.5" width="61" height="18" fill="#fff" stroke="#ff0000" stroke-width="1" shape-rendering="crispEdges"/>
<text x="1335" y="50.8" font-size="16" fill="#ff0000" textLength="56" lengthAdjust="spacingAndGlyphs">150.453</text>
<path d="M1270 87.5 H1260.5" stroke="#ff0000" fill="none" stroke-width="1" shape-rendering="crispEdges"/>
<rect x="1270.5" y="76.5" width="73" height="22" fill="#fff" stroke="#ff0000" stroke-width="1" shape-rendering="crispEdges"/>
<text x="1273" y="94.8" font-size="19.5" fill="#ff0000" textLength="68" lengthAdjust="spacingAndGlyphs">149.030</text>
<rect x="899" y="430" width="1" height="20" fill="#000" shape-rendering="crispEdges"/>
<text x="1477.5" y="68.8" font-size="19.6" fill="#00ff00" textLength="106" lengthAdjust="spacing" font-family='"Noto Serif CJK SC","Noto Sans CJK SC",serif' font-weight="300">多空转折点</text>
<text class="s" x="1691" y="44" textLength="33" lengthAdjust="spacingAndGlyphs">150.600</text>
<text class="s" x="1691" y="110" textLength="33" lengthAdjust="spacingAndGlyphs">148.350</text>
<text class="s" x="1691" y="176" textLength="33" lengthAdjust="spacingAndGlyphs">146.130</text>
<text class="s" x="1691" y="209" textLength="33" lengthAdjust="spacingAndGlyphs">144.990</text>
<text class="s" x="1691" y="242" textLength="33" lengthAdjust="spacingAndGlyphs">143.880</text>
<text class="s" x="1691" y="275" textLength="33" lengthAdjust="spacingAndGlyphs">142.770</text>
<text class="s" x="1691" y="308" textLength="33" lengthAdjust="spacingAndGlyphs">141.630</text>
<text class="s" x="1691" y="341" textLength="33" lengthAdjust="spacingAndGlyphs">140.520</text>
<text class="s" x="1691" y="374" textLength="33" lengthAdjust="spacingAndGlyphs">139.410</text>
<text class="s" x="1691" y="407" textLength="33" lengthAdjust="spacingAndGlyphs">138.270</text>
<text class="s" x="1691" y="440" textLength="33" lengthAdjust="spacingAndGlyphs">137.160</text>
<text class="s" x="1691" y="473" textLength="33" lengthAdjust="spacingAndGlyphs">136.050</text>
<text class="s" x="1691" y="506" textLength="33" lengthAdjust="spacingAndGlyphs">134.910</text>
<text class="s" x="1691" y="539" textLength="33" lengthAdjust="spacingAndGlyphs">133.800</text>
<text class="s" x="1691" y="572" textLength="33" lengthAdjust="spacingAndGlyphs">132.690</text>
<text class="s" x="1691" y="143.5" textLength="33" lengthAdjust="spacingAndGlyphs">147.240</text>
<rect x="1687" y="51" width="41" height="11" fill="#ff0000" shape-rendering="crispEdges"/>
<text class="s" x="1691" y="60" style="fill:#fff" textLength="33" lengthAdjust="spacingAndGlyphs">150.047</text>
<rect x="1687" y="67" width="41" height="11" fill="#ff0000" shape-rendering="crispEdges"/>
<text class="s" x="1691" y="76" style="fill:#fff" textLength="33" lengthAdjust="spacingAndGlyphs">149.505</text>
<rect x="1687" y="88" width="41" height="12" fill="#000" shape-rendering="crispEdges"/>
<rect x="1687" y="88" width="41" height="11" fill="#000000" shape-rendering="crispEdges"/>
<text class="s" x="1691" y="97" style="fill:#fff" textLength="33" lengthAdjust="spacingAndGlyphs">148.820</text>
<rect x="1687" y="81" width="41" height="11" fill="#32cd32" shape-rendering="crispEdges"/>
<text class="s" x="1691" y="90" style="fill:#fff" textLength="33" lengthAdjust="spacingAndGlyphs">149.030</text>
<rect x="1687" y="111" width="41" height="11" fill="#0000ff" shape-rendering="crispEdges"/>
<text class="s" x="1691" y="120" style="fill:#fff" textLength="33" lengthAdjust="spacingAndGlyphs">148.014</text>
<rect x="1687" y="132" width="41" height="11" fill="#0000ff" shape-rendering="crispEdges"/>
<text class="s" x="1691" y="141" style="fill:#fff" textLength="33" lengthAdjust="spacingAndGlyphs">147.303</text>
<text class="s" x="1689" y="584.3" textLength="27.6" lengthAdjust="spacingAndGlyphs">1.8026</text>
<text class="s" x="1689" y="671.3" textLength="17.5" lengthAdjust="spacingAndGlyphs">0.00</text>
<text class="s" x="1689" y="740.3" textLength="30.3" lengthAdjust="spacingAndGlyphs">-1.4717</text>
<text class="s" x="1689" y="756.3" textLength="14.6" lengthAdjust="spacingAndGlyphs">100</text>
<text class="s" x="1688" y="785.3" textLength="9.8" lengthAdjust="spacingAndGlyphs">80</text>
<text class="s" x="1688" y="836.3" textLength="9.8" lengthAdjust="spacingAndGlyphs">50</text>
<text class="s" x="1689" y="897.3" textLength="9.8" lengthAdjust="spacingAndGlyphs">15</text>
<text class="s" x="1689" y="916.3" textLength="4.9" lengthAdjust="spacingAndGlyphs">0</text>
<text class="s" x="1" y="933" style="font-size:9.2px">Aug 2020</text>
<text class="s" x="58.7" y="933" style="font-size:9.2px">11 Aug 2020</text>
<text class="s" x="122.7" y="933" style="font-size:9.2px">20 Aug 2020</text>
<text class="s" x="186.7" y="933" style="font-size:9.2px">30 Aug 2020</text>
<text class="s" x="250.7" y="933" style="font-size:9.2px">8 Sep 2020</text>
<text class="s" x="314.7" y="933" style="font-size:9.2px">17 Sep 2020</text>
<text class="s" x="378.7" y="933" style="font-size:9.2px">27 Sep 2020</text>
<text class="s" x="442.7" y="933" style="font-size:9.2px">6 Oct 2020</text>
<text class="s" x="506.7" y="933" style="font-size:9.2px">15 Oct 2020</text>
<text class="s" x="570.7" y="933" style="font-size:9.2px">25 Oct 2020</text>
<text class="s" x="634.7" y="933" style="font-size:9.2px">3 Nov 2020</text>
<text class="s" x="698.7" y="933" style="font-size:9.2px">12 Nov 2020</text>
<text class="s" x="762.7" y="933" style="font-size:9.2px">22 Nov 2020</text>
<text class="s" x="826.7" y="933" style="font-size:9.2px">1 Dec 2020</text>
<text class="s" x="890.7" y="933" style="font-size:9.2px">10 Dec 2020</text>
<text class="s" x="954.7" y="933" style="font-size:9.2px">20 Dec 2020</text>
<text class="s" x="1018.7" y="933" style="font-size:9.2px">30 Dec 2020</text>
<text class="s" x="1082.7" y="933" style="font-size:9.2px">10 Jan 2021</text>
<text class="s" x="1146.7" y="933" style="font-size:9.2px">19 Jan 2021</text>
<text class="s" x="1210.7" y="933" style="font-size:9.2px">28 Jan 2021</text>
<text class="s" x="1274.7" y="933" style="font-size:9.2px">7 Feb 2021</text>
<text class="s" x="1338.7" y="933" style="font-size:9.2px">16 Feb 2021</text>
<text class="s" x="1402.7" y="933" style="font-size:9.2px">25 Feb 2021</text>
<text class="s" x="10" y="31" textLength="63" lengthAdjust="spacingAndGlyphs">GBPJPY-,Daily</text>
<text class="s" x="79.4" y="31" textLength="140.6" lengthAdjust="spacingAndGlyphs">148.805 149.175 148.095 148.820</text>
<polygon points="-1,30 5.2,30 2.1,26.3" fill="#000"/>
<text class="s" x="-1" y="586.7" textLength="128" lengthAdjust="spacingAndGlyphs">MACD(12,26,9) 1.4784 1.5511</text>
<text class="s" x="-2" y="759" textLength="69" lengthAdjust="spacingAndGlyphs">RSI(14) 70.7260</text>
<g shape-rendering="crispEdges">
<rect x="0" y="39" width="217" height="64" fill="#fff"/>
<rect x="0" y="39" width="50" height="25" fill="url(#gsell)"/>
<rect x="165" y="39" width="52" height="25" fill="url(#gsell)"/>
<rect x="0" y="63" width="107" height="40" fill="url(#gbig)"/>
<rect x="109" y="63" width="108" height="40" fill="url(#gbig)"/>
<rect x="0" y="39" width="50" height="1" fill="#2020c0"/><rect x="49" y="39" width="1" height="24" fill="#2020c0"/>
<rect x="165" y="39" width="52" height="1" fill="#2020c0"/><rect x="165" y="39" width="1" height="24" fill="#2020c0"/><rect x="216" y="39" width="1" height="64" fill="#2020c0"/>
<rect x="2" y="63" width="44" height="1" fill="#9c9cff"/>
<rect x="169" y="63" width="44" height="1" fill="#9c9cff"/>
<rect x="52.5" y="39.5" width="110" height="21" fill="#fff" stroke="#a8a8b0"/>
<rect x="54" y="41" width="19" height="19" fill="url(#gbtn)"/>
<rect x="73" y="40" width="1" height="21" fill="#a8a8b0"/>
<rect x="142" y="41" width="20" height="19" fill="url(#gbtn)"/>
<rect x="141" y="40" width="1" height="21" fill="#a8a8b0"/>
</g>
<polygon points="60,48 65,48 62.5,51" fill="#5566c8"/>
<polygon points="149,51 154,51 151.5,48" fill="#5566c8"/>
<text x="10.5" y="54.7" font-size="12" fill="#fff" textLength="25.5" lengthAdjust="spacingAndGlyphs">SELL</text>
<text x="178.5" y="54.7" font-size="12" fill="#fff" textLength="24.5" lengthAdjust="spacingAndGlyphs">BUY</text>
<text x="114" y="54.5" font-size="12" fill="#000" textLength="24.5" lengthAdjust="spacingAndGlyphs">1.00</text>
<text x="21.5" y="94" font-size="12" font-weight="bold" fill="#fff" textLength="20.5" lengthAdjust="spacingAndGlyphs">148</text>
<text x="45.5" y="94.5" font-size="33" fill="#fff" textLength="34" lengthAdjust="spacingAndGlyphs">82</text>
<text x="85" y="77.5" font-size="11" font-weight="bold" fill="#fff" textLength="7" lengthAdjust="spacingAndGlyphs">0</text>
<text x="131.5" y="94" font-size="12" font-weight="bold" fill="#fff" textLength="20.5" lengthAdjust="spacingAndGlyphs">148</text>
<text x="157.5" y="94.5" font-size="33" fill="#fff" textLength="34" lengthAdjust="spacingAndGlyphs">93</text>
<text x="196" y="77.5" font-size="11" font-weight="bold" fill="#fff" textLength="7" lengthAdjust="spacingAndGlyphs">1</text>
<g id="toolbar">
<rect x="0" y="0" width="1732" height="15" fill="#f0f0f0"/>
<rect x="0" y="14" width="1732" height="1" fill="#e4e4e4"/>
<rect x="0" y="15" width="1732" height="1" fill="#9a9a9a"/>
<rect x="0" y="16" width="1732" height="1" fill="#6e6e6e"/>
<rect x="0" y="17" width="1732" height="2" fill="#ffffff"/>
<rect x="1731" y="16" width="1" height="921" fill="#e6e6e6"/>
<!-- highlighted buttons -->
<g fill="#f8f8f8"><rect x="322" y="0" width="23" height="13"/><rect x="473" y="0" width="24" height="13"/><rect x="501" y="0" width="25" height="13"/><rect x="661" y="0" width="24" height="13"/><rect x="1135" y="0" width="24" height="13"/></g>
<!-- separators -->
<g fill="#a0a0a0" shape-rendering="crispEdges">
<rect x="46" y="0" width="1" height="13"/><rect x="282" y="0" width="1" height="15"/><rect x="320" y="0" width="1" height="13"/><rect x="377" y="0" width="1" height="13"/>
<rect x="467" y="0" width="1" height="13"/><rect x="472" y="0" width="1" height="13"/><rect x="500" y="0" width="1" height="13"/><rect x="529" y="0" width="1" height="13"/>
<rect x="650" y="0" width="1" height="15"/><rect x="660" y="0" width="1" height="13"/><rect x="717" y="0" width="1" height="13"/><rect x="956" y="0" width="1" height="15"/>
<rect x="1134" y="0" width="1" height="13"/><rect x="1217" y="0" width="1" height="15"/>
</g>
<!-- grips -->
<g fill="#b0b0b0" shape-rendering="crispEdges">
<path d="M286 1h3v1h-3zM286 3h3v1h-3zM286 5h3v1h-3zM286 7h3v1h-3zM286 9h3v1h-3zM286 11h3v1h-3z"/>
<path d="M654 1h3v1h-3zM654 3h3v1h-3zM654 5h3v1h-3zM654 7h3v1h-3zM654 9h3v1h-3zM654 11h3v1h-3z"/>
<path d="M960 1h3v1h-3zM960 3h3v1h-3zM960 5h3v1h-3zM960 7h3v1h-3zM960 9h3v1h-3zM960 11h3v1h-3z"/>
</g>
<!-- doc icon -->
<rect x="-2" y="-4" width="10.5" height="13" fill="#fff" stroke="#4a78d0" stroke-width="1.2"/>
<path d="M0 2.5h7M0 5.5h7" stroke="#b8c8f0" stroke-width="1"/>
<!-- magnifier over page -->
<rect x="21.5" y="-3" width="10" height="11" fill="#fff" stroke="#a8a8a8"/>
<circle cx="29" cy="2.5" r="5" fill="#cfe3f8" stroke="#7aa8dc" stroke-width="1.3"/>
<path d="M33 7.5L38 12" stroke="#d4a020" stroke-width="2.4" stroke-linecap="round"/>
<!-- new order -->
<rect x="56.5" y="-3" width="8" height="11" fill="#fff" stroke="#808080"/>
<path d="M58 2.5h5M58 5h3" stroke="#a0a0a0"/>
<path d="M64 1v4h-4v3.4h4v4h3.4v-4h4V5h-4V1z" fill="#22c022" stroke="#0a7a0a" stroke-width="0.8"/>
<text x="75" y="5.8" font-size="12" fill="#000" textLength="36" lengthAdjust="spacingAndGlyphs">新订单</text>
<!-- gold book -->
<path d="M123 3.5L132 -2L139.5 3L131 10.5z" fill="#e0aa28" stroke="#9a6a08" stroke-width="0.8"/>
<path d="M123 4.5L131 11.5L139.5 4" fill="none" stroke="#c08a10" stroke-width="1"/>
<!-- cloud -->
<rect x="154" y="-3" width="10" height="6" fill="#4a90e0"/>
<path d="M153 10.5a3 3 0 0 1 0-6a4 4 0 0 1 7-1.5a3.5 3.5 0 0 1 6 2a2.8 2.8 0 0 1 0 5.5z" fill="#e8f0fa" stroke="#88a8d0" stroke-width="0.9"/>
<!-- signal -->
<path d="M183 -1a7 7 0 0 0 0 9" fill="none" stroke="#5a88d8" stroke-width="1.3"/>
<path d="M180.5 -2a9 9 0 0 0 0 11" fill="none" stroke="#8ab0e8" stroke-width="1"/>
<path d="M188 10.5V1a4.5 4.5 0 0 1 5.5 -3a8 8 0 0 1 -2 11.5a8 8 0 0 1 -3.5 1z" fill="#58a850"/>
<circle cx="187.5" cy="1" r="1.8" fill="#3a68c0"/>
<!-- auto trading -->
<path d="M206 -1L221 -1L219 6L212 10.5L207 4z" fill="#f0d040" stroke="#c09a10" stroke-width="0.8"/>
<ellipse cx="213" cy="-1" rx="7" ry="2.5" fill="#5aa0e0"/>
<circle cx="218.5" cy="6.5" r="4.2" fill="#e02818"/>
<rect x="216.7" y="4.7" width="3.6" height="3.6" fill="#fff"/>
<text x="228" y="5.8" font-size="12" fill="#000" textLength="46" lengthAdjust="spacingAndGlyphs">自动交易</text>
<!-- chart type icons -->
<g stroke="#505050" stroke-width="1" shape-rendering="crispEdges" fill="none">
<path d="M300.5 0V11M298 8.5H311"/><path d="M328.5 0V11M326 8.5H339"/><path d="M356.5 0V11M354 8.5H367"/>
<path d="M480.5 0V11M478 8.5H491"/><path d="M508.5 0V11M506 8.5H520"/>
</g>
<g fill="#505050"><path d="M309.5 6.5l2.5 2l-2.5 2zM337.5 6.5l2.5 2l-2.5 2zM365.5 6.5l2.5 2l-2.5 2zM489.5 6.5l2.5 2l-2.5 2zM518.5 6.5l2.5 2l-2.5 2z"/></g>
<path d="M306.5 0V5.5M304 5.5h3" stroke="#18a018" stroke-width="1.2" fill="none"/>
<rect x="334" y="-1" width="3.5" height="5.5" fill="#22b822" stroke="#0a7a0a" stroke-width="0.6"/><path d="M335.7 4.5V6.5" stroke="#0a7a0a"/>
<path d="M355 5.5L361.5 -0.5L366.5 4" stroke="#18a018" stroke-width="1.2" fill="none"/>
<path d="M485 -1.5L489.5 2L485 5.5z" fill="#22b822"/>
<path d="M514.5 0V6.5" stroke="#2a68c8" stroke-width="1.3"/><path d="M520.5 2.2h-4M518 0l-2.5 2.2l2.5 2.2" stroke="#e03010" stroke-width="1.1" fill="none"/>
<!-- zoom in / out -->
<circle cx="390" cy="0.5" r="5.8" fill="#d0e4f8" stroke="#4a88d8" stroke-width="1.6"/><path d="M387 0.5h6M390 -2v5" stroke="#2a68c8" stroke-width="1.6"/>
<path d="M394.5 5L401 10.5" stroke="#d4a020" stroke-width="2.6" stroke-linecap="round"/>
<circle cx="420" cy="0.5" r="5.8" fill="#d0e4f8" stroke="#4a88d8" stroke-width="1.6"/><path d="M417 0.5h6" stroke="#2a68c8" stroke-width="1.6"/>
<path d="M424.5 5L430 10.5" stroke="#d4a020" stroke-width="2.6" stroke-linecap="round"/>
<!-- grid tiles -->
<rect x="442" y="-4" width="7.5" height="6" fill="#58b030"/><rect x="451" y="-4" width="7.5" height="6" fill="#3868d8"/>
<rect x="442" y="3.2" width="7.5" height="7.3" fill="#3868d8"/><rect x="451" y="3.2" width="7.5" height="7.3" fill="#58b030"/>
<path d="M443.5 7h4.5M452.500 7h4.500M443.500 0.500h4.500M452.500 0.500h4.500" stroke="#e8f0ff" stroke-width="1.2"/>
<!-- indicators plus -->
<rect x="540.5" y="-3" width="8" height="11" fill="#fff" stroke="#808080"/>
<path d="M547.2 -0.5v5h-4.700v3.600h4.700v4.400h3.600v-4.400h4.700v-3.600h-4.700v-5z" fill="#22c022" stroke="#0a7a0a" stroke-width="0.8"/>
<path d="M561 2h5.500l-2.750 3.200zM600 2h5.500l-2.750 3.200zM639 2h5.500l-2.750 3.200zM945 2h5.500l-2.750 3.200z" fill="#000"/>
<!-- clock -->
<circle cx="585" cy="2.5" r="7" fill="#fff" stroke="#2264c4" stroke-width="2.4"/><path d="M585 -2V3H589" stroke="#606060" stroke-width="1" fill="none"/>
<!-- template -->
<rect x="616.5" y="-4" width="15" height="13.300" rx="1" fill="#fff" stroke="#3c78d0" stroke-width="1.4"/>
<path d="M617 3.500h14" stroke="#3c78d0" stroke-width="0.8"/>
<path d="M618.500 2l3-1.500l2 0.800l3-1.500l3-0.800" stroke="#c03018" stroke-width="1.1" fill="none"/>
<path d="M618.500 7.500l3-1.500l2 1l3-2l3 1.800" stroke="#18a018" stroke-width="1.1" fill="none"/>
<!-- cursor -->
<path d="M668.500 -3L668.500 7L671 5L673.500 10L675.500 9L673.200 4.300L676.500 4.300z" fill="#404040"/>
<!-- crosshair + line tools -->
<g stroke="#505050" stroke-width="1" shape-rendering="crispEdges"><path d="M700.500 0V11M693 3.500H708M734.500 0V10M757 3.500H769"/></g>
<path d="M785 9.700L795.500 -0.500" stroke="#505050" stroke-width="1.100"/>
<g stroke="#505050" stroke-width="0.900"><path d="M811 5.500L822 -1M811 9L824 1.500M813 2L816.500 9.500M816.500 0L820 7.500M820.500 -1L823 4"/></g>
<text x="822" y="11.700" font-size="6.500" font-weight="bold" fill="#404040">E</text>
<g stroke="#606060" stroke-width="1" stroke-dasharray="1 1" shape-rendering="crispEdges"><path d="M840 3.500H853M840 7.500H851"/></g>
<text x="850" y="11.700" font-size="6.500" font-weight="bold" fill="#404040">F</text>
<text x="870.500" y="7.500" font-size="12.500" fill="#505050">A</text>
<rect x="897.500" y="-2" width="11" height="11.500" fill="none" stroke="#606060" stroke-dasharray="1 1" shape-rendering="crispEdges"/>
<text x="899" y="7.800" font-size="12" font-weight="bold" fill="#505050">T</text>
<path d="M924 1l2.500 3l4.500-5.500" stroke="#505050" stroke-width="1.600" fill="none"/>
<path d="M931 4.500l2.500-2.500l2.500 2.500l-2.500 2.500zM933.500 7l2.500-2.500l2.500 2.500l-2.500 2.500z" fill="#505050"/>
<!-- timeframes -->
<g font-size="11.500" fill="#505050">
<text x="972" y="6.500" textLength="12.500" lengthAdjust="spacingAndGlyphs">M1</text>
<text x="1000" y="6.500" textLength="12.500" lengthAdjust="spacingAndGlyphs">M5</text>
<text x="1025.500" y="6.500" textLength="18" lengthAdjust="spacingAndGlyphs">M15</text>
<text x="1053.500" y="6.500" textLength="18" lengthAdjust="spacingAndGlyphs">M30</text>
<text x="1084.800" y="6.500" textLength="11.600" lengthAdjust="spacingAndGlyphs">H1</text>
<text x="1111.700" y="6.500" textLength="12.500" lengthAdjust="spacingAndGlyphs">H4</text>
<text x="1140" y="6.500" textLength="12.500" lengthAdjust="spacingAndGlyphs">D1</text>
<text x="1168" y="6.500" textLength="14.500" lengthAdjust="spacingAndGlyphs">W1</text>
<text x="1194.500" y="6.500" textLength="15.200" lengthAdjust="spacingAndGlyphs">MN</text>
</g>
<!-- right: search + chat -->
<circle cx="1688" cy="-1" r="4.500" fill="none" stroke="#2a68c8" stroke-width="1.600"/><path d="M1684.500 2.500L1680.500 7" stroke="#2a68c8" stroke-width="2" stroke-linecap="round"/>
<path d="M1704.500 3a6 5 0 0 0 3 5l-0.500 3.500l3.500-2.500h3a6 5 0 0 0 0-12z" fill="#e4e6f0" stroke="#a8a8a8" stroke-width="0.900"/>
<circle cx="1718.500" cy="1.300" r="8.300" fill="#e03a1e"/>
<text x="1714.800" y="5" font-size="13" fill="#fff" font-family='"Liberation Serif",serif'>1</text>
</g>

</svg></body></html>
